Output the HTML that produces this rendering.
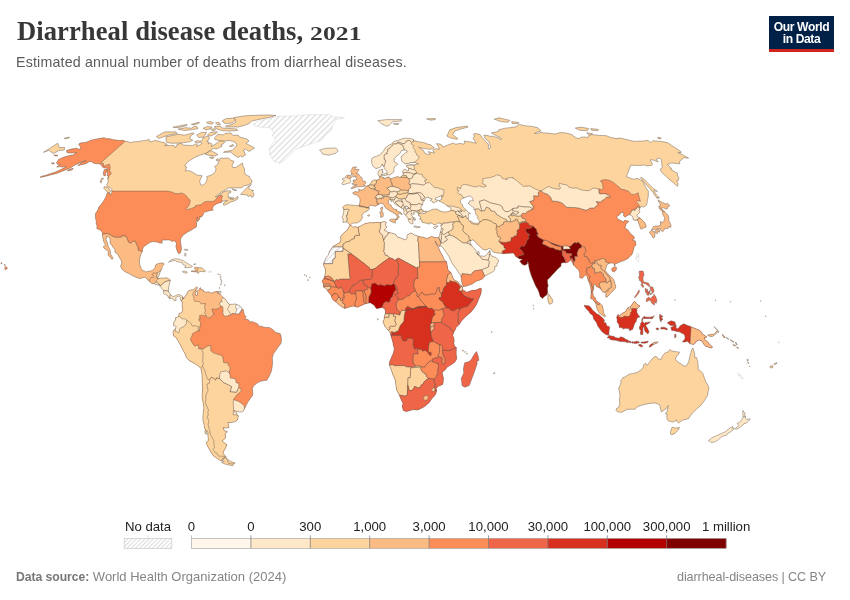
<!DOCTYPE html>
<html><head><meta charset="utf-8"><title>Diarrheal disease deaths, 2021</title>
<style>
html,body{margin:0;padding:0;background:#fff;}
body{width:850px;height:600px;position:relative;overflow:hidden;font-family:"Liberation Sans",sans-serif;}
#title{position:absolute;left:16.8px;top:15.3px;will-change:transform;font-family:"Liberation Serif",serif;font-weight:bold;font-size:26.6px;color:#373737;letter-spacing:0.07px;white-space:nowrap;line-height:32px;}
.yr{display:inline-block;font-size:19.2px;transform:scaleX(1.335);transform-origin:0 100%;}
#sub{will-change:transform;position:absolute;left:16px;top:53px;font-size:14.2px;color:#5b5b5b;white-space:nowrap;line-height:18px;letter-spacing:0.2px;}
#logo{will-change:transform;position:absolute;left:769px;top:16px;width:65px;height:36px;background:#002147;border-bottom:3px solid #ce261e;box-sizing:border-box;color:#fff;font-weight:bold;font-size:12.1px;line-height:12px;text-align:center;padding-top:5px;letter-spacing:-0.4px;}
#src{will-change:transform;position:absolute;left:16px;top:569px;font-size:13px;color:#858585;line-height:16px;white-space:nowrap;letter-spacing:0px;}
#src b{font-weight:bold;color:#777;font-size:12.2px;letter-spacing:-0.05px;}
#cc{will-change:transform;position:absolute;right:24px;top:569px;font-size:12.6px;color:#858585;line-height:16px;white-space:nowrap;letter-spacing:-0.1px;}
svg{position:absolute;left:0;top:0;}
.lg{font-family:"Liberation Sans",sans-serif;font-size:13.2px;fill:#222;}
</style></head><body>
<div id="title">Diarrheal disease deaths, <span class="yr">2021</span></div>
<div id="sub">Estimated annual number of deaths from diarrheal diseases.</div>
<div id="logo">Our World<br>in Data</div>
<svg width="850" height="600" viewBox="0 0 850 600">
<defs>
<pattern id="hatch" patternUnits="userSpaceOnUse" width="4.1" height="4.1" patternTransform="rotate(45)"><rect width="4.1" height="4.1" fill="#fff"/><line x1="1" y1="0" x2="1" y2="4.1" stroke="#d4d4d4" stroke-width="0.95"/></pattern>
<pattern id="hatchS" patternUnits="userSpaceOnUse" width="3" height="3" patternTransform="rotate(45)"><rect width="3" height="3" fill="#fff"/><line x1="0.5" y1="0" x2="0.5" y2="3" stroke="#dcdcdc" stroke-width="1.1"/></pattern>
<clipPath id="c1"><path d="M66.5,150.4L71.2,149.1L76.8,148.2L78.7,149.3L80.8,148.4L80.6,147.2L79.9,145.9L78.7,144.3L80.1,143L85.5,142.5L91.9,139.9L97.7,138.8L104.1,137.7L106.3,138.6L110.1,138.8L112.4,139.5L115.8,140.1L119.4,140.5L123.1,140.3L125.1,141.3L128.1,141.6L130.1,142.7L133.7,141.8L138.2,141.6L142.6,140.7L145.4,140.5L149.2,139.4L149.4,141.4L151.4,141.8L154.6,140.5L158.3,141L161.3,142.1L165.5,143L167.3,144.5L164.4,145.4L167.9,145.7L172.7,145.2L174.6,145.9L174.9,147.5L177,146.1L176.9,144.3L181.2,143.4L183.2,145L187.1,145.4L191.4,145.4L193.3,145.4L195.3,143.8L197.3,144.5L196.8,146.6L199.5,145L202.1,143.2L200.1,141.6L202.5,139.4L203,137.9L207.1,136.2L209,136.8L209.3,138.3L208.2,140.5L206.6,141.4L208.6,142.1L208.1,143.8L210.6,142.7L212,144.3L211.2,146.6L214,145L217.4,142.7L219.6,141L223.8,141L224.9,142.3L223.4,143.8L220.9,145L222.2,146.1L217.4,148.8L215.6,148.8L213.3,148.4L211.6,149.5L208.6,151.4L206.6,153L203.1,154.2L199.6,155.3L195.7,157L191.1,159.6L188.1,161.7L185.2,164.9L185,166.6L186.9,167.1L185.2,171L188.7,170.5L193.1,172.5L197.3,175.2L202.1,175.7L199.7,180.9L200.2,183.2L200.9,185L203,185.2L205.8,182.7L207.3,178.4L206.6,176.7L212.1,174.7L215.1,172.2L216.1,169L214.6,166.6L217.8,164.2L218.9,161.3L220.2,158.2L224.9,158.2L228.1,157.9L231,160.3L234,161.3L232,165.6L233,167.8L236.4,167.1L239.2,165.1L242.4,163L243,166.1L244.6,169L244.4,172.2L246.2,175.2L249.3,176.4L249.9,178.4L252.1,180.4L251.4,183.2L248,185L244.3,185.8L241.2,187.8L237.2,187.8L233.1,187.8L228.2,188L225.2,190.1L221.5,191.9L217.1,195.5L215.2,196.8L217.9,196.2L223,192.1L227,190.8L230.8,190.8L230.9,192.4L228.1,193.4L228.3,196L228.5,198L230.4,199.1L233.4,199.3L235.9,198L237.7,196.2L238,198.8L235.1,200.6L230.5,202.2L226.7,204.3L224.3,205.3L223.1,204.5L224.1,202.4L227.6,200.6L225.8,200.6L222.2,201.2L221.4,202.4L218,203.2L215,204.8L212.8,206.9L212.2,208.7L213.4,209.7L212.2,210.3L210.4,210.5L207.6,211.3L204.7,212.1L203.6,213.1L202.7,215.8L200.6,217.3L199.9,216L199.6,219.2L197.3,221.8L197.4,220L197.4,217.1L196.1,221.5L196.7,222.6L196.6,225.2L196.3,227.1L193.7,228.6L190.4,230.5L187.3,232.3L183.6,234.7L181.4,237.3L180.4,239.7L180.6,242.9L181,245.2L181.5,248.9L180.6,252.6L179.1,253.7L178.3,253.2L177.3,251L176.5,248.9L175.9,246.3L176.6,243.7L175.3,241.3L173.7,240.8L171.9,241.6L170.1,240L166.7,240L164.5,240L161.9,240.2L162.2,243.1L159.3,242.9L157.2,242.1L155.1,241.8L152.2,241.6L149.7,242.6L146.5,244.7L143.3,247.1L142.6,249.2L142.3,251.6L140.5,255L139.3,260.8L139.8,265L141.4,268.7L142.5,270.6L144.7,271.1L145.7,272L148.8,271.2L151.6,270.8L153.6,269.5L155.1,267.4L155.7,264.8L157.9,263.7L160.9,262.9L163.6,263.2L163.9,264.5L162.3,266.6L161.8,268.4L160.7,271.3L159.9,271.1L159.9,272.9L159.1,275.3L157.4,277.9L158.3,278.5L159,278.5L160.6,278.1L164.1,278.1L166.4,277.8L168.6,278.7L169.9,279.5L170.4,280.3L169.6,282.9L169.1,285.8L168.4,289L168.4,291.1L169.7,293.5L170.7,294.6L171.7,295.9L173.3,296.7L174.7,296.1L176.8,295.2L177.8,294.5L180.1,294.9L181.5,295.6L182.7,297L182.9,299L181.2,300.9L180.1,298.8L180.6,297.7L178.9,296.1L177.2,296.7L175.5,298L176.4,300.1L175.2,300.7L174,300.6L173.6,299.3L171.8,298.2L169.7,298.6L168.1,297.4L168,295.9L165.7,294.3L165.1,293.8L164.6,294.5L163.5,293.5L163.3,291.9L163.7,290.6L161.9,288.7L160.9,287.2L159.4,285.7L160.4,285.6L159.7,284.7L157.6,285.1L154.7,284.1L154.1,283.6L151.6,283.2L149.4,281.5L145.9,277.8L144.1,277.1L142.2,277.9L139.8,278.6L136.5,277.4L132.8,275.8L128.5,273.3L124.6,271.6L122,269.2L120.5,266.1L121.8,263.4L121.2,260.3L119.4,257.4L117.4,253.7L114.8,252.1L115.2,249.5L113.1,247.6L112.4,246L110.4,243.7L110,240.2L109.9,237.9L106.9,236L106,239.4L107.5,243.4L108.2,246.6L110.1,250L110.7,254.5L111.7,256.1L113.1,258.2L112,259.5L110.9,257.9L108,255L108.4,251.6L105.9,249.5L104,248.1L103.3,246.6L105.6,244.7L103.9,242.1L103.2,239.2L102.5,236.5L102.5,234.2L102.5,232.9L101,230.5L99,229.4L96.8,228.6L97.1,226L96.2,223.4L96.2,220.5L95.7,219.2L95.4,216.3L95.6,213.4L98,209.7L98.8,207.1L101.5,204L103.6,200.9L105.2,198.2L106.2,196.2L107.3,192.6L109.7,193.3L110.3,195.2L112.4,191.6L111.3,191.1L112,189.8L110.3,187.8L107.4,186.3L106.5,184.7L107.9,182.7L108.1,180.2L107.6,177.9L108.5,176.2L107,175.2L107.6,173L106.9,171L108,168.3L106.4,167.8L103.9,168L102.4,167.1L101.1,164.6L98.9,163.7L95.3,163.6L93.3,163L91.6,161.7L89.8,161.3L86,163.7L82.6,164.4L77.8,165.6L81.8,162.5L86.2,160.8L82.5,161.5L77.8,163.7L73.8,165.6L70.7,167.8L66.3,169.5L62.2,171.2L56.6,173.5L51.2,174.7L45.7,176.2L39.9,177.4L41.8,176.2L45.5,175.4L50.3,173.7L54.8,172.2L60.1,170L64.7,167.6L66.3,166.6L63.9,166.6L62.1,167.3L60.5,166.6L56.7,167.1L60.2,164.4L57.3,164.2L56.6,162.7L58,160.6L58.6,159.4L62.8,157.5L66.5,156.3L70.9,155.3L73,155.1L76.6,152.5L73,153L68.9,153L66.9,152.5L66.6,151.1Z"/></clipPath>
<clipPath id="c2"><path d="M191.4,271.5L193.8,271.7L196.1,271.9L197.6,272.3L198.2,273.5L199.5,271.7L201.9,271.3L204.6,271.9L205.5,270.8L204.1,269.8L202.2,268L199.7,267.4L198.1,267.8L195.6,267.3L194.2,267.9L195.4,269.5L196.3,270.8L193.6,270.9L191.6,270.7Z"/></clipPath>
<clipPath id="c3"><path d="M182.7,297L183.6,298.8L185.1,296.4L186.6,294.5L187.2,292.2L188.9,290.7L190.6,290.1L193.2,289.8L195.1,288.2L196.4,287L197.5,287.4L197.1,288.6L195.7,290.1L196.3,291.1L195.3,293L195.6,295.1L197,295.6L197.6,293.5L196.8,291.1L199.4,289.8L199.8,288.2L200.7,287.7L200.8,289.5L203.4,290.1L204.2,291.9L207,292L208.8,291.9L211.5,293.2L213.2,292.2L216.3,291.6L218.6,291.6L216.9,292.7L219.6,293.8L221,295.3L223,297.4L224.8,298.5L226.3,300.6L227.9,303L229.5,304.3L232.3,304.3L234.4,304L236.7,304.4L239.2,305.6L241.3,307.5L242.1,308.9L243.3,309.6L244.2,314.3L246,316.7L244.9,319.3L247.4,319.3L249.3,320.6L249.5,322.2L251.6,321.4L255.1,322.7L257.5,323.8L258.9,326.2L261,326.2L265.7,327.5L269.2,327.4L272.7,329.6L275.8,332.5L280.2,333.6L281.2,337L281.5,339.6L280.9,343.6L277.9,347.5L275.9,350.2L273.3,354.1L272.3,358.1L272.6,363.3L272.1,367.3L271.2,371.8L269,376.5L266.7,380.4L264,380.5L260.6,381.3L257.1,383.1L253.7,385.8L252.4,388.4L252.8,392.6L252.7,395.2L250.4,398.4L248.2,401.6L246.6,404.5L244.4,408.8L243.8,410.5L241.7,412L238.8,411.9L235.1,410.7L233.8,410.3L233.8,411.1L236.8,412.9L237.1,415.3L238.5,415.8L237.4,420L234.8,421.8L230.7,422.6L228,422.4L228.5,425.3L229.1,427.6L226.1,428.1L223.1,427.6L224.2,430.5L227.5,431.8L225.9,432.8L225.2,433.9L225.5,437L225.3,438.3L222.2,440.9L225.1,443.5L227,444.7L224.9,449.4L223.2,451.9L223.3,453.7L226.3,457.1L224.4,457.7L222.1,458.8L222.4,460.9L219.5,460L216.6,458L213.8,456.2L211.1,452.4L208.2,447.3L206,442.7L208.5,440.4L207.9,435.7L208,431.8L205.1,429.4L204.3,426.8L204.1,424.7L202.9,420L202.9,417.6L203.1,413.4L203.9,408.4L203.8,406.8L202.9,401.6L202.3,398.7L202.1,395L202.5,391L202.6,386.8L202.2,382.1L202.2,377.8L201.8,373.1L201,368.6L200.7,368.2L198.1,365.7L195,363.7L188.9,360.4L186,356.8L185.6,354.9L183.8,351.6L181.4,347L179.8,343.8L177.5,340.1L176.5,338L173.6,335.9L173,332.2L173.9,330.1L175.3,328.8L176.2,326.7L175.4,325.9L173.6,325.6L173.8,322.5L175.6,319.9L175.6,317.7L178.2,317L178.7,316L179.2,313.3L181.8,312.7L182.8,309.6L182,305.4L182.3,302.2L181.2,300.9L182.9,299Z"/></clipPath>
<clipPath id="c4"><path d="M226.3,457.9L223.6,458.1L222.8,460.3L224.2,461.8L221.4,462L224.1,463.8L228.6,465L232.8,465.7L233.3,464.3L235.1,462.9L232.2,462.1L229.5,460.8L227.6,459.3Z"/></clipPath>
<clipPath id="c5"><path d="M349.5,225.5L350.8,225.2L352.7,227.2L353.8,226.9L355.9,226.8L357.6,227.3L361.1,225.7L362.6,224.9L365.2,223.6L369.1,222.8L373.5,222.8L377.4,222.3L379.4,222.6L381.2,222.4L383.8,221.5L386.4,222.2L385.6,223.9L385.6,225.5L386.8,227.1L384.7,229.4L384.5,230.5L386.5,231L388,232.5L391.7,233.1L395.9,234.4L397.4,237.1L399.4,237.6L402.6,238.7L405.1,240L407,238.4L407,235.2L410.5,233.1L412.5,233.5L414,235L415.8,235.2L418.4,236.4L423,237.2L427.1,238.5L429.1,237.6L431.4,236.5L434.4,237.3L437.1,237.9L438.7,237.3L440.7,242.1L440.2,244.7L439.6,246.7L438,245.2L436.5,243.4L435.3,240.9L435.5,242.6L437.1,245.2L438.7,248.1L440,251.3L441.9,254.5L443.1,256.6L443.5,258.7L446.6,261.9L447.7,268.2L448.2,270.3L450.9,272.4L453.4,278.7L454.7,280.3L457.6,281.6L460.5,285.1L461.3,285.6L462.2,286.4L462.8,288L462.3,289.3L462.7,289.7L466.8,292.3L471.4,290.6L476,290.1L480.1,288.3L481.3,288.6L481.2,292.2L480.4,295.1L478.9,298.5L476.7,304L474.2,308L470.8,312.2L468.1,314.4L465,317.2L461.6,320.8L459.3,324.2L457.7,325.9L456.1,327.2L455.9,328.3L454.8,330.5L453.7,332.1L453.4,333.3L452.7,335.7L453.8,337.8L454.2,340.9L453.7,343.3L454.6,346.2L456.3,347.5L456.2,351.5L456.1,354.1L456.7,358.1L456.4,359.4L454.4,362.6L449.8,365.5L447.2,367L445.5,369.4L442.2,372.2L442.5,374.7L443.4,377.8L443.1,382.9L442.6,384.4L438.4,386.3L436.2,388.3L436.7,390.6L435.8,393.7L434.5,395.8L431.9,398.5L429.3,402.4L424.2,406.8L419,409.4L417.1,410L413.2,409.6L406.4,411.6L403.1,410.4L403,409.2L402.1,406.1L403.1,403.4L401.1,399.5L399.4,395.2L396.6,390L396,385.8L395.4,380.4L393,374.9L390.9,369.1L389.4,365.3L389.6,362L390.4,359.9L393.4,353.1L394.4,348.8L393.1,344.4L393.1,343L391,335.9L390.8,335.1L390.3,333L390,332.5L388.3,330.3L384.8,326.2L382.9,321.7L384.4,318.8L384.1,317.2L385.2,313.8L385.5,312.1L385,309.2L383.1,308L382.2,307.3L378.7,308.3L376.4,308.5L374,305.1L370.3,302.8L368.7,303.1L366.1,303.5L365.2,303.8L361.9,305.2L357.5,307.3L355.2,306.4L353.1,306L348.4,307.2L344.9,308.4L341.4,306.7L337.3,303.2L335.6,301.7L333.3,300.1L331.6,297.4L331.5,296L330.6,294.8L328.5,292.2L327.6,291L326.3,288.6L323.7,287.3L323.5,285.4L323.5,284L322,281.1L324.4,277.5L325.6,272.1L325.3,268.7L323.4,265L323.6,263.6L326.2,257.4L328.3,255.3L329.6,251L332.6,247L333.3,246.2L337.5,243.9L340,242.3L340.9,239.7L340.6,236.8L341.9,234.7L345.6,231.3L347.3,230.1L348.8,227.3Z"/></clipPath>
<clipPath id="c6"><path d="M438.7,237.3L439.2,236.5L439.6,235.2L440,233.4L440.1,232.6L440.8,230.5L441.3,229.2L441.5,228.5L440.8,226.3L441,225.1L441.4,223.4L439.9,223.4L437.9,222.8L436.1,224.6L433.7,224.7L432.3,223.5L429.4,222.7L429.1,224.2L425.9,223.1L423.9,222.8L422.1,222.3L421.5,220L419.4,218.9L420.7,218.5L420.2,216.3L418.6,215.8L418.7,214.4L419.7,213.4L421.4,213.7L424.6,213.4L426.4,212.5L424.6,211.7L424.8,211.3L427.1,211.4L429.4,211L431.2,209.9L433.2,209.2L437.1,209.1L439.9,211L442.6,211.7L444.5,212L447.3,211.8L451,210.5L451,209L450.4,207.6L447.6,206.3L446.8,205.6L444.1,203.5L441.5,202.2L439,200.9L440.7,199.9L441.9,198.3L441.4,196.8L443.5,196L441.2,196L440,196.1L438.5,197L435.6,198L435.2,199.6L438.5,200.4L436.4,201.4L434.7,202.4L433.1,203L432.4,201.4L430.2,200.4L432.2,198.8L428.8,198L428.4,197L426.1,197.5L425.2,199.2L424.3,200.8L422.9,202.2L422.6,204L422.6,204.7L421.4,206.1L420.7,207.9L421.9,209.2L422.5,210.5L424.2,211L424.2,211.8L421.2,212L418.7,214.3L418.1,212.9L418.2,212.5L416.1,212L414.6,212L413.2,212.6L414.6,213.9L412.7,214.6L411.5,213.4L411.5,212.9L411,214.4L412.5,216.5L411.7,217.3L413.5,218.4L414.7,220.6L413.4,219.7L412.3,219.8L412.9,221.3L412.9,223.8L411.6,223.8L409.7,222.8L408.2,220.2L408.6,219.2L411.2,219.2L408.1,218.8L407.1,217.2L405.9,215.5L405.4,215.2L404,213.7L403.9,211L403.6,209.6L401.6,208L400.8,207.5L397,205.3L394.3,203.5L393.5,201.4L392.2,200.6L391.5,201.9L390.7,200.1L391,199.7L389.7,199.6L388.1,200.6L388.5,201.7L388.4,203.5L390.8,205L392.1,207.4L394.3,209.2L396.9,209.5L396.3,210.5L398.7,211.6L401,212.7L402.1,214.2L401.9,215L400.8,213.7L399.3,213.3L398.1,214.2L397.9,215.2L399.4,217.1L398.1,217.9L397.3,219.8L396.4,219.7L396.6,218.1L397.4,217.1L396.4,215L395.9,214.3L394.4,213.8L393.5,212.7L392.9,212.3L390.2,211.2L388.4,209.9L386,208.2L384.6,206.6L384.1,205.2L383.1,203.9L381.1,203L379.2,204.3L378.2,204.5L377,205.4L375,206.3L373.7,205.8L372.5,205.6L370.8,205.2L369,206.3L369.1,208L369.2,209.5L367,211L364.1,212.5L362.4,214.6L361.8,215.9L362.8,217.7L361.3,218.9L360.8,220.7L358.9,221.4L357.7,223L354.8,223.1L352.8,223.1L350.7,224.6L350.1,224.9L348.6,223.5L348.3,222.6L346.3,221.8L345,222.3L342.9,222.3L343.3,218.6L341.9,217.7L342.8,215.5L343.4,213.9L343.8,211.4L343.6,209.5L342.7,206.9L344.7,205.6L346.2,204.7L350.2,204.9L354.4,205.4L358.6,205.7L359.2,205.2L359.9,202.3L360.1,199.9L359.9,198.3L358.3,196.8L357.9,195.6L356.6,195L353.6,194.2L352.7,192.8L355.1,191.6L358.3,192L359.1,192L358.6,189.3L359.8,189.3L360.2,190.2L362.6,189.8L364.6,188.7L365.6,186.8L366.1,186.1L367.5,185.8L369.1,185.1L370.4,183.6L371.5,182.3L371.8,181.1L373.1,180.4L376,179.9L376.6,180.3L378.1,179.2L379.1,179.6L379.9,178.7L379.6,177.7L379.2,176.2L378.1,174.6L378.1,172L378.8,170.7L381.3,169.5L382.6,169.1L382.5,170.5L382.2,172L383.4,172.3L382.1,173.1L381.4,174.9L380.8,176.4L382,177.3L384.1,177.6L383.7,178.6L386.1,178.1L388.6,176.8L390.4,178.7L394.1,177.7L398.1,176.4L398.9,177.4L400.8,177.3L401.3,176.1L403.4,175.2L403,173.3L402.7,171.5L403.5,170L405.4,169.1L406.8,170.9L408.5,170.9L408.6,168.9L408.7,167.7L406.7,167.1L406.4,165.6L408.7,165L411,164.6L414.8,165L416.3,164.2L418.7,163.9L416.3,163.2L415.5,162.7L413.9,162.4L410.6,162.7L408.9,163.3L405.3,164L403.6,162.7L401.7,161.3L401.6,159.8L401.1,157.7L401.4,156.3L403.3,154.6L405.9,152.5L407.4,151.8L407,150.7L404.8,150L401.5,150.4L400.3,152.8L398.8,154.6L395.9,156.7L394.2,158.9L394.2,162L397,163.2L397.8,164.2L396.3,165.4L394.5,166.9L394.1,168.5L393.8,171L393.9,171.9L392.5,173.1L390.1,174.6L390,174.9L387.6,174.9L387.3,174.2L386.7,173L387.2,171.9L385.1,169.3L383.5,166.3L383.3,166.1L382.2,163.9L381.6,166.1L379.4,167.6L375.9,168.5L373.1,166.3L371.9,163.7L371.6,161L371.8,158.4L374.2,157L376.3,156.3L379.6,154.9L382,152.8L383.9,150.4L385,148.2L387.3,146.6L389,145L392.1,143.8L392.9,142.3L394.4,141.2L397.6,140.5L401.8,139L405.1,138.1L408.8,138.3L412.2,139L414.3,139.9L412.9,141.2L414.2,141L416.2,141L418.3,141.8L423.4,142.5L428.2,144.3L430.6,144.7L434.2,147.7L433.2,148.8L429.8,149.3L424.4,148.6L420.7,147.9L418.5,147L420.9,148.8L423.7,150.7L424.4,153L427.8,154.4L430.4,154.2L429.9,153.5L427.9,151.6L433,152.8L434.5,152.9L432.8,150.4L435.7,148.6L439.4,149.3L438.7,147.2L436.5,143.6L440.1,144.1L442.3,145.4L443,147.2L445.9,145.7L451.1,143.8L453.2,143L455.6,144.3L460.2,143.4L463.1,144.1L465.1,143L464,141L471.4,142.1L476.3,143.2L475.2,141.4L473.1,138.8L474.4,136.2L473.6,134L474.9,133.4L480,134.5L482.6,138.3L487,142.7L488.6,145L488.2,148.8L490.9,147.5L489.5,143.8L488.8,141.6L484.9,138.3L483.9,135.1L487.8,135.5L490.1,136.4L493.2,136.2L499,138.3L501,139.9L501.5,138.3L495.9,135.5L491.4,133L498.8,131.3L498.8,129.7L505.1,128.2L510.6,127.6L515.9,126.8L519.4,124.4L525.3,125.8L532.2,126.4L537.9,127.8L541.1,130.9L537.5,131.9L534.4,133.4L537.6,133.4L541.2,132.3L544.6,133.2L544.9,132.8L555.3,134L559.8,132.6L564.9,132.8L570.9,134.2L576,137.7L578.7,138.6L581.2,137.2L585,137L588.1,137.5L589,135.1L589.8,134.2L592.5,134.7L598.2,135.3L606.2,135.7L610,137.2L616,138.6L620.3,138.1L630.5,140.5L634.3,141.4L638.2,141.2L643.8,141L647.9,140.3L650.7,142.7L652.7,140.7L658.4,141.2L663.7,141.8L667.7,142.8L681.3,151.8L680.9,152.8L677.9,152.5L683.6,155.3L688.6,158.2L684.1,157.7L681.8,159.4L679.7,161.3L679.7,163.8L671.6,163L669,163.9L667.4,164.4L671.6,168.5L670.3,169L677.4,173.2L677.5,175.9L678.8,177.2L678.5,180.4L676.5,180.9L678.1,183.5L677.5,186.3L671.1,180.9L665.4,175.9L661,171.5L660.4,169L662.3,167.8L661.8,164.9L661.7,162.5L661,159.6L659.5,157.9L656.2,159.4L658.4,162L651.9,159.6L650.3,159.8L652.5,164.2L651.6,165.4L646,165.9L644.4,164.8L640.8,165.4L635.7,165.4L630.7,165.2L629.4,169L628.2,172.3L626.3,176.7L633.4,179.2L637.3,178.4L642,180.7L643.6,182.7L645.1,186.3L648.3,191.1L648.3,196.2L647.3,200.9L646.7,204.8L643.8,207.1L641.2,206.3L639.9,208.4L639.1,210.8L640.1,212.1L637.5,214.4L636.9,215L637.3,216.5L640.1,218.1L644.3,222.1L645.9,224.9L646.2,227.1L643.9,227.8L641.2,229.2L640.4,228.4L639.8,226L638.6,222.8L637.6,220.2L634.6,220.2L632.9,219.4L633.2,217.9L631.9,215.8L629.7,214.6L627.3,215.5L625.2,217.3L623.5,215.8L623.8,212.9L621.3,212.2L619.6,214.7L617,216.5L616.6,217.1L618.3,219.4L621,220.5L623.4,222.1L624.6,220.2L629,221.3L626.6,223.4L625.8,224.9L624.9,228.1L627.7,229.7L630.7,233.9L633.8,236.3L634.5,238.4L631.9,240L635.4,241L636,245.2L634.3,246.3L633.1,251.3L631.9,254.7L630.7,255.4L628.1,258.4L622.9,261.1L621.4,261.3L617.8,262.9L615,264L614.9,266.3L613.5,263.2L612.5,262.9L609.1,263.2L606.7,265L606.3,267.1L605.2,270.3L607.3,273.2L608.9,275L611.8,277.4L613.7,279.5L614.9,283.6L615.8,286.4L615.4,288.2L613.1,291.1L610.9,292.6L609.7,294.5L607.1,296.9L605.9,297.2L605.8,294L606.4,293.5L604.8,292.4L602.5,291.9L601.5,290.3L600.9,289.1L599.1,287.7L596.2,286.5L595.9,284.7L594.9,284.3L593.8,284.8L593.8,286.8L593.7,288.7L592.7,292.2L593.3,295.7L595.1,297.7L596.4,300.9L599.4,303L600,303.4L602.4,305.6L603.3,309.8L603.6,312.7L605.6,316.3L604.2,316.4L600.7,314.1L598.5,311.9L597,308.8L596.2,305.6L595.9,304L595.5,302.8L594.3,301.7L592.3,298.6L590.9,299L590.7,296.4L591.2,293.5L591,289.5L590.7,287.2L589.4,282.9L588.1,280.3L587.2,276.4L585.5,275L584.2,276.1L582.4,278.3L579.7,277.7L579.8,273.7L578.8,270.3L577,268.4L575.1,266.7L573.5,265.1L571.8,261.1L570.3,260.3L569.1,261.3L568.3,262.2L565.9,262.8L563.6,262.6L561.2,263.2L560.9,266.3L559,267.8L557.2,269.5L553.9,273.2L551.9,275.3L549.2,278.3L547.3,280L547.7,284L548.2,285.3L547.4,288.5L547.7,292.7L546.4,295.3L544,296.7L542.7,298.5L540.1,296.4L539.4,293.6L538.2,290.2L535.6,285.8L533.5,280.8L532.7,279L531.1,275L529.6,269.9L528.9,267.1L528.6,264.2L527.8,261.2L527.2,264L524.8,265.3L522.5,264.5L519.7,261.2L522.6,259.2L519.1,258.7L517.6,257.4L515.9,256.8L514.5,254.5L513.4,252.9L509.8,253.2L506.4,253.4L503.7,253.7L502.1,253.4L499.8,253.2L496.1,252.9L493.3,252.1L491.2,249.2L489.5,248.3L486.3,250L483.1,249.5L481,247.6L479.7,246.4L476.6,243.5L474.6,240.8L472,239.7L471.1,240.9L469.9,240.9L470.1,242.5L471.2,244.6L472.6,247.1L474.5,248.7L476,250.5L476,252.4L477.7,254.6L477.4,252.6L478.4,250.9L479.3,253.2L478.9,255.1L479.7,255.9L482,256.1L484.3,256.3L486,255.4L487.8,253.2L489.4,251.2L490,250.4L490.2,253.7L491.4,255.8L495.8,257.6L498.9,260.5L497.2,263.7L496.8,266.1L494.7,266.6L494.8,269.8L492.5,272.1L489.6,273.5L486.9,275L484.7,276L482.8,278.7L480.1,279.9L475.8,281.5L472.3,284L466.6,286.1L463.1,286.5L462.5,284.8L461.5,280.8L461,276.6L460.4,275.3L456.7,269.5L452,263.2L450.1,259.2L448.9,256.3L446.7,253.2L444.9,250.6L442.4,247.1L440.3,245.9L440.8,242.5L440.7,242.1Z"/></clipPath>
<clipPath id="c7"><path d="M348,175.1L349,175.4L350.4,175.4L351.7,177.4L350.1,178.2L350,178.4L350.4,180.2L350.5,181.7L349.8,183L347.4,183.5L345.8,184L342.8,184.9L341.7,183.2L343.1,182L344.6,180.6L342.3,179.9L342.6,178.4L345.8,177.7L345.4,176.8L346.3,175.6Z"/></clipPath>
<clipPath id="c8"><path d="M634.6,301.4L636.3,303.2L637.3,304.6L640.1,306.1L637.7,308.5L637,308.6L636.4,308.9L637.1,310.6L636.7,311.9L637.5,313.8L639.8,317.1L637.3,317.7L636.4,319.9L636.2,321.4L634.7,323.3L634,325.6L633.2,327.8L632.7,329.3L629.5,330.8L629.2,328.8L625.7,328.3L622.9,329.1L622.7,327.8L619.2,327.5L619.1,324.9L617,321.7L617.3,319.9L616.6,317.2L618,314.4L619.7,315.6L622.1,313.5L625.7,311.4L627.8,307.7L630.4,306.7L631.1,305.6L632.5,304L633.9,301.7Z"/></clipPath>
<clipPath id="c9"><path d="M667.9,322L668.5,322.1L671.2,320.8L675.1,322.1L675.3,323.8L676.4,326.4L675.5,325.9L676.2,328L677.7,328.7L679.4,327L680.6,325.6L683.7,323.8L687.6,325.4L690.4,326.4L691.1,326.7L694.5,328.3L699.1,330L702,332.6L701.9,333.6L704.6,335.5L706.5,336.5L706.4,337.5L704.4,337.6L704.7,339.4L706.9,341.2L709.2,343.7L710.7,345.4L712.6,346.9L712,347.8L710.4,347.9L708,346.9L705.7,346.3L704.1,344.8L702,341.1L699.1,340L696.7,340.9L695.6,342.5L694.6,343.8L693.6,344.4L689.9,343.8L687.6,341.2L685.2,341.9L682.4,342L684.8,339.1L685.1,337.5L684.6,334.9L683.5,334.1L679.2,331.8L676.9,331.4L673.2,330.4L671.8,330.7L670.8,327.5L673.1,326.4L674.6,325.6L670.4,325.4L668.5,323.8L667.7,323.5Z"/></clipPath>
<clipPath id="c10"><path d="M649,347.1L650.1,344.9L651.5,344.1L652.8,343.3L654.3,342.4L656.4,342L658.3,342L657.3,342.9L655.1,343.8L652.9,344.8L651.1,346.6Z"/></clipPath>
</defs>
<g clip-path="url(#c1)">
<rect x="-100" y="0" width="1000" height="600" fill="#fdd49e"/>
<path d="M101.5,191.1L111.3,191.1L138.2,191.1L168.4,191.1L169.1,191.6L172.4,192.1L174.8,193.4L178.6,193.7L181.4,192.9L184.6,194.4L187,196.5L187.4,197.5L188.9,198.8L190.3,200.6L189.6,204L188.2,206.6L185.9,208.7L186.8,209.7L190.3,208.7L195.2,207.1L195.5,205.6L198.5,205L201.3,204.8L202.2,203.5L205.7,201.4L209.8,201.4L213,201.4L214.8,200.4L216.3,199.1L217.6,197L219.9,195.1L221.7,195.3L222.5,196L221.3,199.6L221.8,200.6L222.2,201.2L222,202.2L220.1,206.6L229.2,214.4L220.4,267.1L142.3,251.6L138.3,250.3L138,247.4L136.5,244.5L135.3,241.3L132.8,241.3L130.7,243.4L128.2,241.8L127.3,238.7L125.4,236L121.6,236L121.2,237.3L115,237.3L111.1,235.5L108,233.6L102.5,234.2L83.5,238.1L83,214.4Z" fill="#fc8d59" stroke="#62564c" stroke-width="0.45" stroke-linejoin="round"/>
<path d="M131.9,136.2L125.1,141.3L100.6,163L103.4,163.4L103.7,166.3L107,164.9L109.6,164.2L109.8,165.9L110.3,167.3L109.7,171L111.4,173.5L109.1,175.9L107.1,180.9L23.3,183.5L60.9,149.5L104.2,134Z" fill="#fc8d59" stroke="#62564c" stroke-width="0.45" stroke-linejoin="round"/>
<path d="M102.5,234.2L108,233.6L111.1,235.5L115,237.3L121.2,237.3L121.6,236L125.4,236L127.3,238.7L128.2,241.8L130.7,243.4L132.8,241.3L135.3,241.3L136.5,244.5L138,247.4L138.3,250.3L142.3,251.6L147.3,251.3L169.1,256.6L165.9,282.9L142.3,288.2L87.5,267.1L96.5,232.9Z" fill="#fdbb84" stroke="#62564c" stroke-width="0.45" stroke-linejoin="round"/>
<path d="M149.4,281.5L149.6,279.8L151,277.4L153.8,277.4L153.9,276.4L152.1,274.5L153,274.4L153.2,272.9L157.4,272.9L156.7,277.9L157.4,277.9L159.6,277.1L161.5,280.3L156.2,288.2L147.2,285.6Z" fill="#fdbb84" stroke="#62564c" stroke-width="0.45" stroke-linejoin="round"/>
<path d="M157.4,272.9L158.1,272.7L159.6,271.1L161.5,271.1L160.6,277.9L157.4,277.9L156.7,277.9Z" fill="#fee8c8" stroke="#62564c" stroke-width="0.45" stroke-linejoin="round"/>
<path d="M159,278.5L158,278.7L156.4,280.6L156,281.9L157.8,282.9L159.3,284.5L159.2,285.6L160.3,285.8L161.8,284.8L163.4,282.9L166.1,281.4L167.2,281.1L170.4,280.3L171.9,280.3L172.3,276.4L159.7,276.4Z" fill="#fdd49e" stroke="#62564c" stroke-width="0.45" stroke-linejoin="round"/>
<path d="M156,281.9L157.8,282.9L159.3,284.5L159.4,285.8L153.4,285.6L154.1,283.6Z" fill="#fee8c8" stroke="#62564c" stroke-width="0.45" stroke-linejoin="round"/>
<path d="M160.3,285.8L161.8,284.8L163.4,282.9L166.1,281.4L167.2,281.1L170.4,280.3L171.9,280.3L171.1,291.1L168.4,291.1L166,290.9L163.7,290.6L161.7,292.2L157.6,285.8Z" fill="#fee8c8" stroke="#62564c" stroke-width="0.45" stroke-linejoin="round"/>
<path d="M163.7,290.6L166,290.9L168.4,291.1L171.1,291.1L171.3,294.6L170.7,294.6L169.8,295.9L169.7,298.6L169.4,300.1L161.5,294.8L161.7,292.2Z" fill="#fee8c8" stroke="#62564c" stroke-width="0.45" stroke-linejoin="round"/>
<path d="M170.7,294.6L171.3,294.6L172.1,292.2L183.7,292.2L182.7,297L182.9,299L181.2,300.9L180.9,302.7L169.3,302.7L169.4,300.1L169.7,298.6L169.8,295.9Z" fill="#fee8c8" stroke="#62564c" stroke-width="0.45" stroke-linejoin="round"/>
</g>
<path d="M66.5,150.4L71.2,149.1L76.8,148.2L78.7,149.3L80.8,148.4L80.6,147.2L79.9,145.9L78.7,144.3L80.1,143L85.5,142.5L91.9,139.9L97.7,138.8L104.1,137.7L106.3,138.6L110.1,138.8L112.4,139.5L115.8,140.1L119.4,140.5L123.1,140.3L125.1,141.3L128.1,141.6L130.1,142.7L133.7,141.8L138.2,141.6L142.6,140.7L145.4,140.5L149.2,139.4L149.4,141.4L151.4,141.8L154.6,140.5L158.3,141L161.3,142.1L165.5,143L167.3,144.5L164.4,145.4L167.9,145.7L172.7,145.2L174.6,145.9L174.9,147.5L177,146.1L176.9,144.3L181.2,143.4L183.2,145L187.1,145.4L191.4,145.4L193.3,145.4L195.3,143.8L197.3,144.5L196.8,146.6L199.5,145L202.1,143.2L200.1,141.6L202.5,139.4L203,137.9L207.1,136.2L209,136.8L209.3,138.3L208.2,140.5L206.6,141.4L208.6,142.1L208.1,143.8L210.6,142.7L212,144.3L211.2,146.6L214,145L217.4,142.7L219.6,141L223.8,141L224.9,142.3L223.4,143.8L220.9,145L222.2,146.1L217.4,148.8L215.6,148.8L213.3,148.4L211.6,149.5L208.6,151.4L206.6,153L203.1,154.2L199.6,155.3L195.7,157L191.1,159.6L188.1,161.7L185.2,164.9L185,166.6L186.9,167.1L185.2,171L188.7,170.5L193.1,172.5L197.3,175.2L202.1,175.7L199.7,180.9L200.2,183.2L200.9,185L203,185.2L205.8,182.7L207.3,178.4L206.6,176.7L212.1,174.7L215.1,172.2L216.1,169L214.6,166.6L217.8,164.2L218.9,161.3L220.2,158.2L224.9,158.2L228.1,157.9L231,160.3L234,161.3L232,165.6L233,167.8L236.4,167.1L239.2,165.1L242.4,163L243,166.1L244.6,169L244.4,172.2L246.2,175.2L249.3,176.4L249.9,178.4L252.1,180.4L251.4,183.2L248,185L244.3,185.8L241.2,187.8L237.2,187.8L233.1,187.8L228.2,188L225.2,190.1L221.5,191.9L217.1,195.5L215.2,196.8L217.9,196.2L223,192.1L227,190.8L230.8,190.8L230.9,192.4L228.1,193.4L228.3,196L228.5,198L230.4,199.1L233.4,199.3L235.9,198L237.7,196.2L238,198.8L235.1,200.6L230.5,202.2L226.7,204.3L224.3,205.3L223.1,204.5L224.1,202.4L227.6,200.6L225.8,200.6L222.2,201.2L221.4,202.4L218,203.2L215,204.8L212.8,206.9L212.2,208.7L213.4,209.7L212.2,210.3L210.4,210.5L207.6,211.3L204.7,212.1L203.6,213.1L202.7,215.8L200.6,217.3L199.9,216L199.6,219.2L197.3,221.8L197.4,220L197.4,217.1L196.1,221.5L196.7,222.6L196.6,225.2L196.3,227.1L193.7,228.6L190.4,230.5L187.3,232.3L183.6,234.7L181.4,237.3L180.4,239.7L180.6,242.9L181,245.2L181.5,248.9L180.6,252.6L179.1,253.7L178.3,253.2L177.3,251L176.5,248.9L175.9,246.3L176.6,243.7L175.3,241.3L173.7,240.8L171.9,241.6L170.1,240L166.7,240L164.5,240L161.9,240.2L162.2,243.1L159.3,242.9L157.2,242.1L155.1,241.8L152.2,241.6L149.7,242.6L146.5,244.7L143.3,247.1L142.6,249.2L142.3,251.6L140.5,255L139.3,260.8L139.8,265L141.4,268.7L142.5,270.6L144.7,271.1L145.7,272L148.8,271.2L151.6,270.8L153.6,269.5L155.1,267.4L155.7,264.8L157.9,263.7L160.9,262.9L163.6,263.2L163.9,264.5L162.3,266.6L161.8,268.4L160.7,271.3L159.9,271.1L159.9,272.9L159.1,275.3L157.4,277.9L158.3,278.5L159,278.5L160.6,278.1L164.1,278.1L166.4,277.8L168.6,278.7L169.9,279.5L170.4,280.3L169.6,282.9L169.1,285.8L168.4,289L168.4,291.1L169.7,293.5L170.7,294.6L171.7,295.9L173.3,296.7L174.7,296.1L176.8,295.2L177.8,294.5L180.1,294.9L181.5,295.6L182.7,297L182.9,299L181.2,300.9L180.1,298.8L180.6,297.7L178.9,296.1L177.2,296.7L175.5,298L176.4,300.1L175.2,300.7L174,300.6L173.6,299.3L171.8,298.2L169.7,298.6L168.1,297.4L168,295.9L165.7,294.3L165.1,293.8L164.6,294.5L163.5,293.5L163.3,291.9L163.7,290.6L161.9,288.7L160.9,287.2L159.4,285.7L160.4,285.6L159.7,284.7L157.6,285.1L154.7,284.1L154.1,283.6L151.6,283.2L149.4,281.5L145.9,277.8L144.1,277.1L142.2,277.9L139.8,278.6L136.5,277.4L132.8,275.8L128.5,273.3L124.6,271.6L122,269.2L120.5,266.1L121.8,263.4L121.2,260.3L119.4,257.4L117.4,253.7L114.8,252.1L115.2,249.5L113.1,247.6L112.4,246L110.4,243.7L110,240.2L109.9,237.9L106.9,236L106,239.4L107.5,243.4L108.2,246.6L110.1,250L110.7,254.5L111.7,256.1L113.1,258.2L112,259.5L110.9,257.9L108,255L108.4,251.6L105.9,249.5L104,248.1L103.3,246.6L105.6,244.7L103.9,242.1L103.2,239.2L102.5,236.5L102.5,234.2L102.5,232.9L101,230.5L99,229.4L96.8,228.6L97.1,226L96.2,223.4L96.2,220.5L95.7,219.2L95.4,216.3L95.6,213.4L98,209.7L98.8,207.1L101.5,204L103.6,200.9L105.2,198.2L106.2,196.2L107.3,192.6L109.7,193.3L110.3,195.2L112.4,191.6L111.3,191.1L112,189.8L110.3,187.8L107.4,186.3L106.5,184.7L107.9,182.7L108.1,180.2L107.6,177.9L108.5,176.2L107,175.2L107.6,173L106.9,171L108,168.3L106.4,167.8L103.9,168L102.4,167.1L101.1,164.6L98.9,163.7L95.3,163.6L93.3,163L91.6,161.7L89.8,161.3L86,163.7L82.6,164.4L77.8,165.6L81.8,162.5L86.2,160.8L82.5,161.5L77.8,163.7L73.8,165.6L70.7,167.8L66.3,169.5L62.2,171.2L56.6,173.5L51.2,174.7L45.7,176.2L39.9,177.4L41.8,176.2L45.5,175.4L50.3,173.7L54.8,172.2L60.1,170L64.7,167.6L66.3,166.6L63.9,166.6L62.1,167.3L60.5,166.6L56.7,167.1L60.2,164.4L57.3,164.2L56.6,162.7L58,160.6L58.6,159.4L62.8,157.5L66.5,156.3L70.9,155.3L73,155.1L76.6,152.5L73,153L68.9,153L66.9,152.5L66.6,151.1Z" fill="none" stroke="#62564c" stroke-width="0.45" stroke-linejoin="round"/>
<g clip-path="url(#c2)">
<rect x="-100" y="0" width="1000" height="600" fill="#fdd49e"/>
<path d="M190.9,264.5L198.3,264.5L198,267.9L198,270L197.2,270.8L197.6,272.3L197.3,275L189.8,275Z" fill="#fdbb84" stroke="#62564c" stroke-width="0.45" stroke-linejoin="round"/>
</g>
<path d="M191.4,271.5L193.8,271.7L196.1,271.9L197.6,272.3L198.2,273.5L199.5,271.7L201.9,271.3L204.6,271.9L205.5,270.8L204.1,269.8L202.2,268L199.7,267.4L198.1,267.8L195.6,267.3L194.2,267.9L195.4,269.5L196.3,270.8L193.6,270.9L191.6,270.7Z" fill="none" stroke="#62564c" stroke-width="0.45" stroke-linejoin="round"/>
<path d="M156.4,136.5L164.6,131.9L175.4,131.8L177.3,133.4L167.9,135.2L158.9,138.5Z" fill="#fdd49e" stroke="#62564c" stroke-width="0.45" stroke-linejoin="round"/>
<path d="M166,136.8L178.2,134.3L184.8,135.2L187.6,134.3L192.4,132.9L194.2,133.4L191.4,135.2L189.5,138.5L192.8,140.2L189.5,141.8L182.9,142.8L176.4,143.2L170.7,143.2L166.9,142.3L166,139.9Z" fill="#fdd49e" stroke="#62564c" stroke-width="0.45" stroke-linejoin="round"/>
<path d="M173,127.2L186.7,124.4L187.2,125.4L178.2,127.7Z" fill="#fdd49e" stroke="#62564c" stroke-width="0.45" stroke-linejoin="round"/>
<path d="M178.2,129.1L185.8,127.7L191.4,128.2L194.2,126.3L197.1,126.8L198,128.6L192.4,129.6L184.8,130.5L182,130.1Z" fill="#fdd49e" stroke="#62564c" stroke-width="0.45" stroke-linejoin="round"/>
<path d="M191.4,124.4L198.9,122.1L199.4,123L194.2,124.9Z" fill="#fdd49e" stroke="#62564c" stroke-width="0.45" stroke-linejoin="round"/>
<path d="M206.5,122.4L210,121.4L213.5,122.8L212,124.2L208,123.6Z" fill="#fdd49e" stroke="#62564c" stroke-width="0.45" stroke-linejoin="round"/>
<path d="M215.5,122.8L219,122.4L220.5,124.5L217,124.5Z" fill="#fdd49e" stroke="#62564c" stroke-width="0.45" stroke-linejoin="round"/>
<path d="M203.2,128.2L207.4,126.5L212,127L211,128.7L206,129.9Z" fill="#fdd49e" stroke="#62564c" stroke-width="0.45" stroke-linejoin="round"/>
<path d="M211,129.3L214.7,128.7L215.4,130.1L212.6,131Z" fill="#fdd49e" stroke="#62564c" stroke-width="0.45" stroke-linejoin="round"/>
<path d="M196.6,135.2L201.3,132.4L206.5,132.4L205.5,134.3L203.6,137.1L198.9,137.4Z" fill="#fdd49e" stroke="#62564c" stroke-width="0.45" stroke-linejoin="round"/>
<path d="M207.4,135.2L210.2,132.4L217.5,131.8L216,133.5L210.5,136Z" fill="#fdd49e" stroke="#62564c" stroke-width="0.45" stroke-linejoin="round"/>
<path d="M194.7,141.8L198,140.4L200.4,141.8L198,143.2Z" fill="#fdd49e" stroke="#62564c" stroke-width="0.45" stroke-linejoin="round"/>
<path d="M234,117.5L245,115.8L257,115.2L269,115L276,115.5L269,117.5L261,119L252,121L249,123.5L244,125.5L238,127L226.5,127L225.5,126L232,124.5L236,122L235,120Z" fill="#fdd49e" stroke="#62564c" stroke-width="0.45" stroke-linejoin="round"/>
<path d="M222.5,120.5L226.5,118.5L234,118L235.5,120L232,123L225,123.5L223,122Z" fill="#fdd49e" stroke="#62564c" stroke-width="0.45" stroke-linejoin="round"/>
<path d="M214.5,126.5L220,126L222.5,128L230,128.5L237,129L237.5,130.5L230,131L223,130.8L218,129.5L215,128Z" fill="#fdd49e" stroke="#62564c" stroke-width="0.45" stroke-linejoin="round"/>
<path d="M214.5,138L218,134.2L223.5,135L225,133.5L231,133L233,135.5L238,135L239.5,137L247,139L249,141L246,143.5L252,146.5L254.5,148L249,151.5L245.5,149L243.5,150L245.5,155L242,157L240.5,156L238,157.5L234,155L230.5,152L223.5,152.5L224.5,151.5L232,150.5L236,146.5L237,144L233.5,141.5L229.5,140.5L224.5,141L219,140.5L215,139.5Z" fill="#fdd49e" stroke="#62564c" stroke-width="0.45" stroke-linejoin="round"/>
<path d="M229.5,146L233,144.5L234,145.5L230.5,147Z" fill="#fdd49e" stroke="#62564c" stroke-width="0.45" stroke-linejoin="round"/>
<path d="M205,154L211,150.5L218,154.5L215,156L209,155.5Z" fill="#fdd49e" stroke="#62564c" stroke-width="0.45" stroke-linejoin="round"/>
<path d="M209.5,157.5L213,156.8L214,158L211,158.5Z" fill="#fdd49e" stroke="#62564c" stroke-width="0.45" stroke-linejoin="round"/>
<path d="M216,159.8L218,158.5L218.6,160.5L217,161Z" fill="#fdd49e" stroke="#62564c" stroke-width="0.45" stroke-linejoin="round"/>
<path d="M253.5,124L259.5,121L276,116.5L298.5,115.8L306,114.7L330,114.7L333,116.8L344.5,117.7L336,119.5L333,124.8L331.5,130L325.5,135.2L321,140.5L312,143.5L303,146.5L295.5,149.5L289.5,155.5L285,160L279.8,163.3L273.8,161.5L270,155.5L269.2,149.5L272.2,143.5L276,139.8L272.2,136L273.8,132.2L270,127.8L259.5,127L254.2,125.5Z" fill="url(#hatch)" stroke="#cfcfcf" stroke-width="0.45" stroke-linejoin="round"/>
<path d="M251.4,184.5L248.1,186.5L245.1,189.6L242.4,192.4L240.5,194.4L244.1,194.7L247.2,195L248.2,196.5L250.8,195.2L251.7,197.3L253,196.8L254,194.7L253.5,192.9L252.3,191.9L253.6,190.3L250.6,190.1L249.1,188.5L249,186.8Z" fill="#fdd49e" stroke="#62564c" stroke-width="0.45" stroke-linejoin="round"/>
<path d="M231.9,188.9L235.5,189.7L236.8,190.6L233.7,190.3Z" fill="#fdd49e" stroke="#62564c" stroke-width="0.45" stroke-linejoin="round"/>
<path d="M229.6,197L231.9,197.7L233.9,197.8L232.4,198.8L230,198.3Z" fill="#fdd49e" stroke="#62564c" stroke-width="0.45" stroke-linejoin="round"/>
<path d="M104.1,186.6L108.1,187.5L109.3,189.3L110.5,191.4L109.7,192.9L107.4,192.1L105.7,190.3L103.9,188.3Z" fill="#fdd49e" stroke="#62564c" stroke-width="0.45" stroke-linejoin="round"/>
<path d="M101.5,178.2L103.7,178.3L101.8,180.4L101.1,183.2L100.2,181.2Z" fill="#fdd49e" stroke="#62564c" stroke-width="0.45" stroke-linejoin="round"/>
<path d="M67.3,170.3L67.8,171L72.4,169.8L73.2,168.3L71.3,168.8Z" fill="#fc8d59" stroke="#62564c" stroke-width="0.45" stroke-linejoin="round"/>
<path d="M53.8,155.1L55.6,156L57.7,156L57.4,155.3L56.2,154.9Z" fill="#fc8d59" stroke="#62564c" stroke-width="0.45" stroke-linejoin="round"/>
<path d="M51.2,163.2L52.8,164L54.3,163.4L53.9,162.7Z" fill="#fc8d59" stroke="#62564c" stroke-width="0.45" stroke-linejoin="round"/>
<path d="M107,168.8L107.2,170.3L105.6,173.5L105.4,175.9L103.7,175.4L103.3,173L104.2,169.8Z" fill="#fc8d59" stroke="#62564c" stroke-width="0.45" stroke-linejoin="round"/>
<path d="M4.8,267.8L5.6,266.5L7.1,267.5L7.4,268.4L5.4,269.9L4.8,269Z" fill="#fc8d59" stroke="#62564c" stroke-width="0.45" stroke-linejoin="round"/>
<path d="M4,264.8L5,264.6L5.5,265.3L4.5,265.5Z" fill="#fc8d59" stroke="#62564c" stroke-width="0.45" stroke-linejoin="round"/>
<path d="M0.9,263L1.7,262.6L2,263.7L1.1,263.7Z" fill="#fc8d59" stroke="#62564c" stroke-width="0.45" stroke-linejoin="round"/>
<path d="M-2.2,261.6L-1.2,261.3L-1.4,262.1L-2.1,262.1Z" fill="#fc8d59" stroke="#62564c" stroke-width="0.45" stroke-linejoin="round"/>
<path d="M168.6,262.2L170.9,260L173.8,259L177.2,258.8L180.1,259.5L183.3,260.8L186.1,262.6L189.3,264.5L192.5,266.5L190.6,267.4L184.6,267.5L186,265.8L182.9,264.5L182.6,262.9L178.7,261.9L175.8,261.3L175,260.3L171,261.3Z" fill="#fee8c8" stroke="#62564c" stroke-width="0.45" stroke-linejoin="round"/>
<path d="M182.4,271.5L184.4,271.1L187.1,271.9L187.2,272.7L184.9,273.1L182.7,272Z" fill="#fee8c8" stroke="#62564c" stroke-width="0.45" stroke-linejoin="round"/>
<path d="M184.1,249.5L186.4,249.2L188.1,250L186.9,250.4L184.7,250.1Z" fill="#fee8c8" stroke="#62564c" stroke-width="0.45" stroke-linejoin="round"/>
<path d="M184.8,253.4L186,253.5L185.8,255.8L185.3,256.3L184.5,255.3Z" fill="#fee8c8" stroke="#62564c" stroke-width="0.45" stroke-linejoin="round"/>
<path d="M193.9,264L195.6,263.7L195.2,264.6L193.9,264.6Z" fill="#fee8c8" stroke="#62564c" stroke-width="0.45" stroke-linejoin="round"/>
<path d="M208,271.1L211.6,271.2L211.7,272L207.9,272.5Z" fill="url(#hatch)" stroke="#cfcfcf" stroke-width="0.45" stroke-linejoin="round"/>
<path d="M218.8,291.5L221,291.2L220.8,293.2L218.7,293.4Z" fill="#fee8c8" stroke="#62564c" stroke-width="0.45" stroke-linejoin="round"/>
<g clip-path="url(#c3)">
<rect x="-100" y="0" width="1000" height="600" fill="#fc8d59"/>
<path d="M209.2,380L211.2,377.3L213.6,378.1L215.6,380L216.3,377.8L219.5,378.5L223.6,382.6L228.4,384.7L231.8,386.7L230.1,391.6L235.4,392.1L236.5,392.1L238.7,387.3L241.1,388.9L241,391.4L236.9,394.7L233.5,399.5L238.3,406.8L248.6,414.8L246.5,466.2L215.7,466.2L188.9,377.8Z" fill="#fdd49e" stroke="#62564c" stroke-width="0.45" stroke-linejoin="round"/>
<path d="M209.2,380L209.7,380.5L209.4,383.1L206.8,384.4L208.1,390.8L206.7,393.1L205.7,396.6L205.9,400L205.3,402.6L207.1,406.8L208.5,410L207.8,412.6L208.3,415L207.2,416.6L208.9,421.3L208,424.2L208.8,427.6L209.8,430.7L210.4,434.4L212.4,437.8L213.9,440.9L213.9,444L214.5,447.6L212.9,449.4L215.4,452.9L216.8,452.9L217.9,455.5L219,456.2L222.8,456.2L226.3,457.1L231.1,466.2L211.8,466.2L182.6,362L207.9,362Z" fill="#fdd49e" stroke="#62564c" stroke-width="0.45" stroke-linejoin="round"/>
<path d="M233.5,399.5L233.2,403.9L233.5,406.8L233.5,409.5L233.2,414.8L248.6,414.8L244.4,408.8L244.4,406.1L242.3,403.9L238.3,401.2L237.4,401Z" fill="#fee8c8" stroke="#62564c" stroke-width="0.45" stroke-linejoin="round"/>
<path d="M219.5,378.5L223.6,382.6L228.4,384.7L231.8,386.7L230.1,391.6L235.4,392.1L236.5,392.1L238.7,387.3L238.9,383.3L236.4,383L235.6,379.4L234.2,378.5L230.3,378.1L229.9,374.4L229.2,373L228.1,368.6L217.7,368.6Z" fill="#fee8c8" stroke="#62564c" stroke-width="0.45" stroke-linejoin="round"/>
<path d="M201,348.7L203.3,349.1L207.8,345.9L210.8,345.7L210.8,350.7L213.3,352.8L217.1,354.1L221.3,355.4L222.5,356.2L223.7,362.8L228.1,362.8L228,365.2L230.2,367.3L229.8,369.9L229.2,372L229.2,373L226.9,370.9L221,371.7L219.8,373.9L219.5,378.5L216.3,377.8L215.6,380L213.6,378.1L211.2,377.3L209.2,380L207.6,379.2L206.6,376.5L206,374.9L204.5,369.9L202.5,366L199,364.7L197.7,348.8Z" fill="#fdd49e" stroke="#62564c" stroke-width="0.45" stroke-linejoin="round"/>
<path d="M199.4,330.9L197.5,330.9L192.7,333.6L192,335.9L190.3,339.4L192.8,343.8L194.6,346.2L198.4,344.9L198.7,348.8L201,348.7L203.3,353.1L202.8,355.7L202.9,360.2L202.3,361.2L203.4,363.3L202.5,366L200.7,368.2L197.5,372.6L167.4,346.2L168.8,319.9L187.5,317.2L199.2,322.5Z" fill="#fdd49e" stroke="#62564c" stroke-width="0.45" stroke-linejoin="round"/>
<path d="M199.4,330.9L197.7,329.9L199.1,327L195.2,325.6L192.5,326.2L190.8,323.3L186.8,320.1L180.6,325.1L173.6,314.6L179.9,298.8L182.9,299L182.7,297L186.5,285.6L200.5,284.3L204.4,296.1L206.5,316.7L203.4,315.2L199.7,315.4L199.5,317L201,318.3L199,318.4L199,320.4L200.6,322.5Z" fill="#fdd49e" stroke="#62564c" stroke-width="0.45" stroke-linejoin="round"/>
<path d="M186.8,320.1L184.5,318.8L181.9,318.8L181.2,317.7L178.7,316L175.9,313.3L171.2,319.9L171.3,329.1L175.3,328.8L175.1,331.4L176.8,331.7L178.4,333L179.1,332L179.7,328.8L181.1,327.8L183.8,326.7L186.1,323.8Z" fill="#fee8c8" stroke="#62564c" stroke-width="0.45" stroke-linejoin="round"/>
<path d="M197.1,288.6L195,290.6L193.2,292.4L192.8,295.3L194.1,297.7L193.9,300.3L195.1,301.4L199.3,301.4L200.9,303.8L205.3,303.5L204.5,308L205.6,310.6L204.4,312.5L206,315.4L206.5,316.7L207.8,317.9L209.9,318L213,314.8L214.6,314.1L213.2,313.3L211.9,309L216.1,309.3L219.4,308L220.9,306.1L227.4,304L228,288.2L200.5,284.3Z" fill="#fdbb84" stroke="#62564c" stroke-width="0.45" stroke-linejoin="round"/>
<path d="M223,297.4L223.4,298L221.2,300.1L222.1,301.4L220.1,302.2L219.5,304.2L220.9,306.1L222.7,306.7L223.1,310.4L222.8,313.5L224.8,316.4L227.2,315.9L230.7,314.8L234.2,311.9L234.5,298.8L225.4,294.8Z" fill="#fee8c8" stroke="#62564c" stroke-width="0.45" stroke-linejoin="round"/>
<path d="M229.5,304.3L229,306.7L227.3,309.3L228.9,311.2L230.7,314.8L232.1,313.3L235.1,313.8L241.2,311.9L241.4,301.4L229.8,301.4Z" fill="#fee8c8" stroke="#62564c" stroke-width="0.45" stroke-linejoin="round"/>
<path d="M236.7,304.4L235.7,306.7L236.6,310.4L235.1,313.8L239.1,314.1L242.1,308.9L246,306.7L241.4,301.4L236.8,301.4Z" fill="url(#hatch)" stroke="#62564c" stroke-width="0.45" stroke-linejoin="round"/>
</g>
<path d="M182.7,297L183.6,298.8L185.1,296.4L186.6,294.5L187.2,292.2L188.9,290.7L190.6,290.1L193.2,289.8L195.1,288.2L196.4,287L197.5,287.4L197.1,288.6L195.7,290.1L196.3,291.1L195.3,293L195.6,295.1L197,295.6L197.6,293.5L196.8,291.1L199.4,289.8L199.8,288.2L200.7,287.7L200.8,289.5L203.4,290.1L204.2,291.9L207,292L208.8,291.9L211.5,293.2L213.2,292.2L216.3,291.6L218.6,291.6L216.9,292.7L219.6,293.8L221,295.3L223,297.4L224.8,298.5L226.3,300.6L227.9,303L229.5,304.3L232.3,304.3L234.4,304L236.7,304.4L239.2,305.6L241.3,307.5L242.1,308.9L243.3,309.6L244.2,314.3L246,316.7L244.9,319.3L247.4,319.3L249.3,320.6L249.5,322.2L251.6,321.4L255.1,322.7L257.5,323.8L258.9,326.2L261,326.2L265.7,327.5L269.2,327.4L272.7,329.6L275.8,332.5L280.2,333.6L281.2,337L281.5,339.6L280.9,343.6L277.9,347.5L275.9,350.2L273.3,354.1L272.3,358.1L272.6,363.3L272.1,367.3L271.2,371.8L269,376.5L266.7,380.4L264,380.5L260.6,381.3L257.1,383.1L253.7,385.8L252.4,388.4L252.8,392.6L252.7,395.2L250.4,398.4L248.2,401.6L246.6,404.5L244.4,408.8L243.8,410.5L241.7,412L238.8,411.9L235.1,410.7L233.8,410.3L233.8,411.1L236.8,412.9L237.1,415.3L238.5,415.8L237.4,420L234.8,421.8L230.7,422.6L228,422.4L228.5,425.3L229.1,427.6L226.1,428.1L223.1,427.6L224.2,430.5L227.5,431.8L225.9,432.8L225.2,433.9L225.5,437L225.3,438.3L222.2,440.9L225.1,443.5L227,444.7L224.9,449.4L223.2,451.9L223.3,453.7L226.3,457.1L224.4,457.7L222.1,458.8L222.4,460.9L219.5,460L216.6,458L213.8,456.2L211.1,452.4L208.2,447.3L206,442.7L208.5,440.4L207.9,435.7L208,431.8L205.1,429.4L204.3,426.8L204.1,424.7L202.9,420L202.9,417.6L203.1,413.4L203.9,408.4L203.8,406.8L202.9,401.6L202.3,398.7L202.1,395L202.5,391L202.6,386.8L202.2,382.1L202.2,377.8L201.8,373.1L201,368.6L200.7,368.2L198.1,365.7L195,363.7L188.9,360.4L186,356.8L185.6,354.9L183.8,351.6L181.4,347L179.8,343.8L177.5,340.1L176.5,338L173.6,335.9L173,332.2L173.9,330.1L175.3,328.8L176.2,326.7L175.4,325.9L173.6,325.6L173.8,322.5L175.6,319.9L175.6,317.7L178.2,317L178.7,316L179.2,313.3L181.8,312.7L182.8,309.6L182,305.4L182.3,302.2L181.2,300.9L182.9,299Z" fill="none" stroke="#62564c" stroke-width="0.45" stroke-linejoin="round"/>
<g clip-path="url(#c4)">
<rect x="-100" y="0" width="1000" height="600" fill="#fdd49e"/>
<path d="M225.6,456.2L228.7,463.5L233,464L240.2,465L236.8,456.2Z" fill="#fdd49e" stroke="#62564c" stroke-width="0.45" stroke-linejoin="round"/>
</g>
<path d="M226.3,457.9L223.6,458.1L222.8,460.3L224.2,461.8L221.4,462L224.1,463.8L228.6,465L232.8,465.7L233.3,464.3L235.1,462.9L232.2,462.1L229.5,460.8L227.6,459.3Z" fill="none" stroke="#62564c" stroke-width="0.45" stroke-linejoin="round"/>
<path d="M205.1,430.1L206.2,430.7L207.2,433.9L205.6,434.1L204.8,431.8Z" fill="#fdd49e" stroke="#62564c" stroke-width="0.45" stroke-linejoin="round"/>
<g clip-path="url(#c5)">
<rect x="-100" y="0" width="1000" height="600" fill="#ef6548"/>
<path d="M357.6,227.3L358.4,228.9L358.6,232.1L359.6,235.2L356,235.5L354.4,236.3L354.4,238.4L351.4,239.4L350.1,241L346.5,241.8L342.9,244.2L342.9,247L342.8,247.9L351.4,253.9L351.4,253.9L365,264.2L366.5,265.5L369.6,267.9L369.6,269.6L372.2,269.4L372.2,269.4L375.5,268.2L382,263L389.7,257.8L389.7,257.8L386.9,255.1L385.8,255.5L385,254.1L384.8,252.9L383.4,251L384.3,250L384.1,248.3L384.4,246.8L384.2,245.6L384.5,243.4L383.6,240L383.6,240L382.5,235.2L381,233.5L379.2,231.9L380.3,228.5L380.8,226.3L380.3,223.8L381.2,222.4L381.1,219.7L357.6,222.3Z" fill="#fdd49e" stroke="#62564c" stroke-width="0.45" stroke-linejoin="round"/>
<path d="M383.6,240L384.5,243.4L384.2,245.6L384.4,246.8L384.1,248.3L384.3,250L383.4,251L384.8,252.9L385,254.1L385.8,255.5L386.9,255.1L389.7,257.8L389.7,257.8L393.4,259.1L394.7,260.5L396.6,259.2L396.6,259.2L398.6,258.2L417.4,268.4L417.4,268.4L417.4,267.1L419.7,267.1L419.5,261.9L419.5,261.9L418.5,242.7L417.7,240.6L418,239L418.4,236.4L417.6,230.2L386.7,230.2L388,232.5L388,232.5L387.8,234.6L386.1,236.1L385.3,236.3L384.7,238.3L383.6,240Z" fill="#fee8c8" stroke="#62564c" stroke-width="0.45" stroke-linejoin="round"/>
<path d="M418.4,236.4L418,239L417.7,240.6L418.5,242.7L419.5,261.9L419.5,261.9L434.1,261.9L438.2,261.9L446.6,261.9L449.1,261.9L442.5,235.5L417.8,232.9Z" fill="#fdbb84" stroke="#62564c" stroke-width="0.45" stroke-linejoin="round"/>
<path d="M446.6,261.9L438.2,261.9L434.1,261.9L419.5,261.9L419.5,261.9L419.7,267.1L417.4,267.1L417.4,268.4L417.4,268.4L417.8,278.5L415.3,278.5L414.5,280.6L413.9,282.2L413.5,286.5L414.5,288.2L415.5,291.1L415.5,291.1L417.1,293.2L416.8,296.1L418.6,296.9L418.6,296.9L420,294L422.3,292.4L423.9,294.7L427.4,295.1L429.7,294.5L430.9,294L433.9,294.3L435.2,294L437.5,289L437.2,288.2L439.3,287.7L439.2,291.6L440.6,292.6L441.2,294.5L441.6,294.8L441.6,294.8L442,291.9L443.1,291.4L443.5,288.5L444.8,286.6L446.1,286.4L446.7,282.3L446.7,282.3L446.5,279.9L447.4,276.9L447.6,274.9L448.7,274.2L450.9,272.4L454,267.1L449,259.2Z" fill="#fc8d59" stroke="#62564c" stroke-width="0.45" stroke-linejoin="round"/>
<path d="M417.4,268.4L398.6,258.2L396.6,259.2L396.6,259.2L398.8,266.1L398,269.8L398.1,275.3L397.2,276.1L393.6,281.6L393.8,283.7L393.8,283.7L395,285.4L395,285.4L396,285.8L396.9,287.7L397.3,289.5L397.2,291.1L398.4,293.5L396.3,293.8L394.8,294.7L397.3,296.9L398.4,299.9L398.4,299.9L401,299.6L403.8,299L406.5,296.3L409.1,295.9L412.7,292L415.5,291.1L415.5,291.1L414.5,288.2L413.5,286.5L413.9,282.2L414.5,280.6L415.3,278.5L417.8,278.5L417.4,268.4Z" fill="#ef6548" stroke="#62564c" stroke-width="0.45" stroke-linejoin="round"/>
<path d="M372.2,269.4L375.5,268.2L382,263L389.7,257.8L389.7,257.8L393.4,259.1L394.7,260.5L396.6,259.2L396.6,259.2L398.8,266.1L398,269.8L398.1,275.3L397.2,276.1L393.6,281.6L393.8,283.7L393.8,283.7L391.3,285.3L387.2,284.7L384.4,286L380.4,284.7L378.4,285.6L374.9,283.3L372.6,283.7L371.9,284.3L370.7,289L370.7,289L369,287.4L368,288.5L368,288.5L367.5,286.4L364.7,285.1L363.3,282.9L362.9,280.3L362.9,280.3L365.6,279.5L370.5,279.4L372.1,277.7L372.1,275.3L372.2,269.4Z" fill="#ef6548" stroke="#62564c" stroke-width="0.45" stroke-linejoin="round"/>
<path d="M351.4,253.9L365,264.2L366.5,265.5L369.6,267.9L369.6,269.6L372.2,269.4L372.2,269.4L372.1,275.3L372.1,277.7L370.5,279.4L365.6,279.5L362.9,280.3L362.9,280.3L360.8,280.2L357.8,282.4L355.7,284L354.3,285.1L352.5,285.1L352.2,286.8L350.3,289L350.1,289.8L349.6,292.4L349.6,292.4L348,292.2L346.4,292.6L343.8,293L343.8,293L343.2,290.9L342.9,289.8L341.3,287.4L338.8,288.6L337.2,287.7L336,287.2L336,287.2L335.6,285.3L334.6,284L334.2,281.4L334.2,281.4L335.2,280.8L336.2,279.3L337.7,280L340.4,279L349.7,279L350.2,277.1L349.7,276.9L347.8,253.9L351.4,253.9Z" fill="#ef6548" stroke="#62564c" stroke-width="0.45" stroke-linejoin="round"/>
<path d="M351.4,253.9L347.8,253.9L349.7,276.9L350.2,277.1L349.7,279L340.4,279L337.7,280L336.2,279.3L335.2,280.8L334.2,281.4L334.2,281.4L332.9,279.5L331.5,277.7L329.9,276.9L328.8,276.1L327.6,276.1L326.5,276.6L325.3,276.4L324.4,277.5L320.9,277.7L321.3,263.6L332.5,263.6L332.8,259.2L335.1,258L335.2,251.3L342.8,251.3L342.8,247.9L342.8,247.9L351.4,253.9Z" fill="#fdd49e" stroke="#62564c" stroke-width="0.45" stroke-linejoin="round"/>
<path d="M357.6,227.3L358.4,228.9L358.6,232.1L359.6,235.2L356,235.5L354.4,236.3L354.4,238.4L351.4,239.4L350.1,241L346.5,241.8L342.9,244.2L342.9,247L332.6,247L328.6,246L340.5,224.9L358,223.6Z" fill="#fdd49e" stroke="#62564c" stroke-width="0.45" stroke-linejoin="round"/>
<path d="M332.6,247L342.9,247L342.8,251.3L335.2,251.3L335.1,258L332.8,259.2L332.5,263.6L321.3,263.6L321.9,246Z" fill="url(#hatch)" stroke="#62564c" stroke-width="0.45" stroke-linejoin="round"/>
<path d="M383.6,240L382.5,235.2L381,233.5L379.2,231.9L380.3,228.5L380.8,226.3L380.3,223.8L381.2,222.4L381.9,218.4L388.4,219.7L390.1,232.9L388,232.5L387.8,234.6L386.1,236.1L385.3,236.3L384.7,238.3L383.6,240Z" fill="#fee8c8" stroke="#62564c" stroke-width="0.45" stroke-linejoin="round"/>
<path d="M370.7,289L371.9,284.3L372.6,283.7L374.9,283.3L378.4,285.6L380.4,284.7L384.4,286L387.2,284.7L391.3,285.3L393.8,283.7L393.8,283.7L395,285.4L395,285.4L395.3,287.2L396.2,289.5L395.3,290.2L393.3,293.2L393.1,294.5L392.1,297.2L390.8,297.7L389.9,301.4L388.2,302.5L386.8,301.4L385.9,301.7L383.8,303L383.1,304.6L382.2,307.3L381,311.9L368.7,306.7L368.7,303.1L368.8,299L368.7,297.4L369.4,295.9L370.8,293L371.2,291.6L370.7,289Z" fill="#b30000" stroke="#62564c" stroke-width="0.45" stroke-linejoin="round"/>
<path d="M382.2,307.3L383.1,304.6L383.8,303L385.9,301.7L386.8,301.4L388.2,302.5L389.9,301.4L390.8,297.7L392.1,297.2L393.1,294.5L393.3,293.2L395.3,290.2L396.2,289.5L395.3,287.2L395,285.4L395,285.4L396,285.8L396.9,287.7L397.3,289.5L397.2,291.1L398.4,293.5L396.3,293.8L394.8,294.7L397.3,296.9L398.4,299.9L398.4,299.9L397.8,300.3L396.4,303.5L396.3,305.9L396.6,307.7L397.3,309.6L399.9,312.2L400.2,314.1L400.2,314.1L399.5,315.2L396.2,314.1L393.4,314.1L393.4,314.1L388.9,313.8L385.2,313.8L382.2,313.8L381,308Z" fill="#ef6548" stroke="#62564c" stroke-width="0.45" stroke-linejoin="round"/>
<path d="M400.2,314.1L399.9,312.2L397.3,309.6L396.6,307.7L396.3,305.9L396.4,303.5L397.8,300.3L398.4,299.9L398.4,299.9L401,299.6L403.8,299L406.5,296.3L409.1,295.9L412.7,292L415.5,291.1L415.5,291.1L417.1,293.2L416.8,296.1L418.6,296.9L418.6,296.9L421.2,300.6L424.1,304L426.2,306.3L426.2,306.3L421.3,306.5L419.2,306.4L415.5,307.5L414.6,309L411.1,308.3L407.6,306.4L405.7,308.4L405.6,310.4L405.6,310.4L402.2,310.5L400.9,311.5L400.2,314.1Z" fill="#fc8d59" stroke="#62564c" stroke-width="0.45" stroke-linejoin="round"/>
<path d="M418.6,296.9L420,294L422.3,292.4L423.9,294.7L427.4,295.1L429.7,294.5L430.9,294L433.9,294.3L435.2,294L437.5,289L437.2,288.2L439.3,287.7L439.2,291.6L440.6,292.6L441.2,294.5L441.6,294.8L441.6,294.8L441.6,297.2L439.1,297.7L439.1,299.3L441.5,300.9L442.7,301.7L443.9,304L444.6,305.6L445.8,305.9L446,307.7L446,307.7L441.6,308.8L441.6,308.8L440.5,310L437.4,310.4L436.7,309.8L435.1,309.8L434.3,310.6L434.3,310.6L432.3,308.8L431.1,308.3L428.6,308.5L426.2,306.3L426.2,306.3L424.1,304L421.2,300.6L418.6,296.9Z" fill="#fc8d59" stroke="#62564c" stroke-width="0.45" stroke-linejoin="round"/>
<path d="M441.6,294.8L442,291.9L443.1,291.4L443.5,288.5L444.8,286.6L446.1,286.4L446.7,282.3L446.7,282.3L449.3,282.4L449.9,280.6L452.5,281.4L454.8,281.8L456.9,282.7L458.9,284.5L460.6,287L460.6,287L459.2,289.5L459.3,290.9L462,290.9L462,290.9L461.6,292.2L463.4,294.8L464.6,296.1L471.7,298.8L474,298.8L467.2,306.7L464.9,306.8L462.6,307.7L460.2,309L460,309.4L460,309.4L457.4,308.6L455.4,309.7L454.4,310.8L451.2,310.4L448.6,308.3L446.4,308.1L446,307.7L446,307.7L445.8,305.9L444.6,305.6L443.9,304L442.7,301.7L441.5,300.9L439.1,299.3L439.1,297.7L441.6,297.2L441.6,294.8Z" fill="#d7301f" stroke="#62564c" stroke-width="0.45" stroke-linejoin="round"/>
<path d="M450.9,272.4L448.7,274.2L447.6,274.9L447.4,276.9L446.5,279.9L446.7,282.3L446.7,282.3L449.3,282.4L449.9,280.6L452.5,281.4L454.8,281.8L456.9,282.7L458.9,284.5L460.6,287L460.6,287L462.2,286.4L464.1,282.9L454.3,272.4Z" fill="#fdbb84" stroke="#62564c" stroke-width="0.45" stroke-linejoin="round"/>
<path d="M460.6,287L459.2,289.5L459.3,290.9L462,290.9L462,290.9L462.7,289.7L464.3,288.2L463.1,285.6L462.2,286.4L460.6,287Z" fill="#fdd49e" stroke="#62564c" stroke-width="0.45" stroke-linejoin="round"/>
<path d="M462.7,289.7L462,290.9L462,290.9L461.6,292.2L463.4,294.8L464.6,296.1L471.7,298.8L474,298.8L467.2,306.7L464.9,306.8L462.6,307.7L460.2,309L460,309.4L460,309.4L458,312.5L458,322.1L459.3,324.2L462.6,327.8L485.4,293.5L482.7,285.6L463.2,288.2Z" fill="#ef6548" stroke="#62564c" stroke-width="0.45" stroke-linejoin="round"/>
<path d="M446,307.7L446.4,308.1L448.6,308.3L451.2,310.4L454.4,310.8L455.4,309.7L457.4,308.6L460,309.4L460,309.4L458,312.5L458,322.1L459.3,324.2L460.2,333L453.7,332.1L453.7,332.1L450.4,329.5L450.3,328L441.4,322.5L441.4,322.5L441.5,319.6L441.7,319.1L443,317L444,314.8L442.8,310.5L441.6,308.8L441.6,308.8L446,307.7Z" fill="#ef6548" stroke="#62564c" stroke-width="0.45" stroke-linejoin="round"/>
<path d="M441.6,308.8L440.5,310L437.4,310.4L436.7,309.8L435.1,309.8L434.3,310.6L434.3,310.6L434.1,313.5L435.4,314.2L433.5,315.6L432.2,317.7L431.4,321.4L431.4,323.4L433.4,322.6L433.4,322.6L434.2,322.5L441.4,322.5L441.4,322.5L441.5,319.6L441.7,319.1L443,317L444,314.8L442.8,310.5L441.6,308.8Z" fill="#fc8d59" stroke="#62564c" stroke-width="0.45" stroke-linejoin="round"/>
<path d="M426.2,306.3L421.3,306.5L419.2,306.4L415.5,307.5L414.6,309L411.1,308.3L407.6,306.4L405.7,308.4L405.6,310.4L426.2,306.3L428.6,308.5L431.1,308.3L432.3,308.8L434.3,310.6L434.3,310.6L434.1,313.5L435.4,314.2L433.5,315.6L432.2,317.7L431.4,321.4L431.4,323.4L431.4,323.4L430.2,324.6L430.6,325.4L430,327.1L430.6,328.5L430.9,331.6L431.3,336.2L433.5,341.5L433.9,341.6L433.9,341.6L429.8,342L428.9,345.2L428.2,351L429.6,352.4L431,352L431.3,355.3L429.5,355.2L428,352.8L425.4,350.4L422.6,351.2L421.1,349.4L419,349.6L417.9,348.6L417.9,348.6L413.9,349.1L414.1,347.5L413,344.9L413.3,341.7L413.1,339.1L410.3,338.2L410.1,338.3L407.5,338.3L406.6,340.9L403.1,341.1L401.7,338.8L401,335.4L392.7,335.4L391,335.9L390.8,335.1L391.5,334.9L392.9,332.1L392.9,332.1L395.9,332.6L395.9,331.2L398,331.2L400.2,325.6L403.9,321.2L404.1,317.2L404.6,313.8L405.6,310.4Z" fill="#d7301f" stroke="#62564c" stroke-width="0.45" stroke-linejoin="round"/>
<path d="M433.4,322.6L434.2,322.5L441.4,322.5L441.4,322.5L450.3,328L450.4,329.5L453.7,332.1L457.9,333L457.5,347.5L456.3,347.5L451.7,349.6L449.3,350.7L445.4,350.3L442.6,350.3L442.6,350.3L442.5,346.7L441.1,344.9L438.9,344.6L438.9,344.6L438.6,344.2L435.7,342.9L433.9,341.6L433.5,341.5L431.3,336.2L430.9,331.6L430.9,331.6L431.7,331.6L433.2,329.6L434.1,328.5L433.6,326.2L434.3,325.9L433.4,322.6Z" fill="#ef6548" stroke="#62564c" stroke-width="0.45" stroke-linejoin="round"/>
<path d="M431.4,323.4L433.4,322.6L434.3,325.9L433.6,326.2L432.2,326L431.4,327.2L430,327.1L430.6,325.4L430.2,324.6Z" fill="#fdbb84" stroke="#62564c" stroke-width="0.45" stroke-linejoin="round"/>
<path d="M430,327.1L431.4,327.2L432.2,326L433.6,326.2L434.1,328.5L433.2,329.6L431.7,331.6L430.9,331.6L430.6,328.5Z" fill="#fdbb84" stroke="#62564c" stroke-width="0.45" stroke-linejoin="round"/>
<path d="M405.6,310.4L402.2,310.5L400.9,311.5L400.2,314.1L400.2,314.1L399.5,315.2L396.2,314.1L393.4,314.1L393.4,314.1L393.4,316.4L395,316.2L395.7,316.7L394.7,320.4L395.7,323.3L396.1,324.9L394.8,326.2L392.7,326.2L391.5,325.9L389.4,327L390.1,328.8L388.3,330.3L385.7,331.7L389.2,334.3L390.3,333L391.7,331.7L392.9,332.1L392.9,332.1L395.9,332.6L395.9,331.2L398,331.2L400.2,325.6L403.9,321.2L404.1,317.2L404.6,313.8L405.6,310.4Z" fill="#fdd49e" stroke="#62564c" stroke-width="0.45" stroke-linejoin="round"/>
<path d="M388.3,330.3L390.1,328.8L389.4,327L391.5,325.9L392.7,326.2L394.8,326.2L396.1,324.9L395.7,323.3L394.7,320.4L395.7,316.7L395,316.2L393.4,316.4L393.4,314.1L393.4,314.1L388.9,313.8L388.9,317.2L384.8,317.2L378.7,317.2L381,330.4Z" fill="#fdd49e" stroke="#62564c" stroke-width="0.45" stroke-linejoin="round"/>
<path d="M385.2,313.8L388.9,313.8L388.9,317.2L384.8,317.2L383.4,315.9Z" fill="#fdd49e" stroke="#62564c" stroke-width="0.45" stroke-linejoin="round"/>
<path d="M391,335.9L392.7,335.4L401,335.4L401.7,338.8L403.1,341.1L406.6,340.9L407.5,338.3L410.1,338.3L410.3,338.2L413.1,339.1L413.3,341.7L413,344.9L414.1,347.5L413.9,349.1L417.9,348.6L417.9,348.6L418,353.9L413.3,354.1L413.1,362.6L416,366.1L416,366.1L411.6,367.3L405.9,366.8L404.7,365.7L394.6,365.7L392.3,364.7L389.4,365.3L385.4,364.7L388,335.7Z" fill="#ef6548" stroke="#62564c" stroke-width="0.45" stroke-linejoin="round"/>
<path d="M390.8,335.1L389.2,334.3L390.3,333L391.7,331.7L392.9,332.1L391.5,334.9Z" fill="#ef6548" stroke="#62564c" stroke-width="0.45" stroke-linejoin="round"/>
<path d="M438.9,344.6L438.6,344.2L435.7,342.9L433.9,341.6L433.9,341.6L429.8,342L428.9,345.2L428.2,351L429.6,352.4L431,352L431.3,355.3L429.5,355.2L428,352.8L425.4,350.4L422.6,351.2L421.1,349.4L419,349.6L417.9,348.6L417.9,348.6L418,353.9L413.3,354.1L413.1,362.6L416,366.1L416,366.1L419.7,366.1L420.5,366.8L420.5,366.8L421.8,367L424.5,367.2L426.9,363.9L429,362L430.4,361.1L432.5,361.1L432.5,361.1L432.1,359.3L439.1,356.8L439.1,356.8L438,355.7L439.5,352.5L439.6,348.8L439.9,346.7L438.9,344.6Z" fill="#fc8d59" stroke="#62564c" stroke-width="0.45" stroke-linejoin="round"/>
<path d="M438.9,344.6L441.1,344.9L442.5,346.7L442.6,350.3L442.6,350.3L443.1,355.4L445.1,358.3L445.1,361.8L443.6,364.9L441.7,362.6L442.2,359.4L441.9,357.8L439.1,356.8L439.1,356.8L438,355.7L439.5,352.5L439.6,348.8L439.9,346.7L438.9,344.6Z" fill="#fc8d59" stroke="#62564c" stroke-width="0.45" stroke-linejoin="round"/>
<path d="M442.6,350.3L445.4,350.3L449.3,350.7L451.7,349.6L456.3,347.5L459.8,348.8L457.2,391L436.7,390.6L434.9,390.5L434.7,388.3L434.7,388.3L435.1,384.3L434.2,381.8L433.8,378.9L433.8,378.9L436.7,376.1L437.2,373.9L438,372L437.4,369.8L438.3,368.2L438.3,363.9L435.8,363.1L432.5,362L432.5,361.1L432.5,361.1L432.1,359.3L439.1,356.8L439.1,356.8L441.9,357.8L442.2,359.4L441.7,362.6L443.6,364.9L445.1,361.8L445.1,358.3L443.1,355.4L442.6,350.3Z" fill="#ef6548" stroke="#62564c" stroke-width="0.45" stroke-linejoin="round"/>
<path d="M420.5,366.8L421.8,367L424.5,367.2L426.9,363.9L429,362L430.4,361.1L432.5,361.1L432.5,361.1L432.5,362L435.8,363.1L438.3,363.9L438.3,368.2L437.4,369.8L438,372L437.2,373.9L436.7,376.1L433.8,378.9L433.8,378.9L431.5,378.8L429.4,378.4L429.4,378.4L428.7,378.4L426.4,376.7L425.8,373.9L424.9,373.9L422,371.5L420.5,368.6L420.5,366.8Z" fill="#fc8d59" stroke="#62564c" stroke-width="0.45" stroke-linejoin="round"/>
<path d="M389.4,365.3L392.3,364.7L394.6,365.7L404.7,365.7L405.9,366.8L411.6,367.3L416,366.1L416,366.1L419.7,366.1L420.5,366.8L420.5,366.8L418.2,367.3L415.9,367.3L410.6,368.1L410.3,377.8L408.1,377.8L407.8,385.1L407.8,385.1L407.4,394.7L405.1,396.2L401.5,395.5L399.4,395.2L391.6,396.3L385.4,364.7Z" fill="#fdd49e" stroke="#62564c" stroke-width="0.45" stroke-linejoin="round"/>
<path d="M420.5,366.8L418.2,367.3L415.9,367.3L410.6,368.1L410.3,377.8L408.1,377.8L407.8,385.1L407.8,385.1L409.2,390.6L411.4,390.6L413.5,388.9L414.6,386.5L418.3,387.9L420.2,387.6L421.2,385.1L423.4,383.8L423.8,382.2L426.9,379.4L429.4,378.4L429.4,378.4L428.7,378.4L426.4,376.7L425.8,373.9L424.9,373.9L422,371.5L420.5,368.6L420.5,366.8Z" fill="#fdd49e" stroke="#62564c" stroke-width="0.45" stroke-linejoin="round"/>
<path d="M399.4,395.2L401.5,395.5L405.1,396.2L407.4,394.7L407.8,385.1L407.8,385.1L409.2,390.6L411.4,390.6L413.5,388.9L414.6,386.5L418.3,387.9L420.2,387.6L421.2,385.1L423.4,383.8L423.8,382.2L426.9,379.4L429.4,378.4L429.4,378.4L431.5,378.8L433.8,378.9L433.8,378.9L434.2,381.8L435.1,384.3L434.7,388.3L434.9,390.5L436.7,390.6L441.2,393.7L423.4,417.4L395.2,414.8L396.2,393.7Z" fill="#ef6548" stroke="#62564c" stroke-width="0.45" stroke-linejoin="round"/>
<path d="M426.7,395.2L428.3,396.6L428.2,398.7L425.9,400.5L423.7,399.7L422.9,397.9L424.6,396Z" fill="#fdbb84" stroke="#62564c" stroke-width="0.45" stroke-linejoin="round"/>
<path d="M434.7,388.3L434.9,390.5L433,391.8L432,390.5L432.1,389.2L433.3,387.7Z" fill="#fdd49e" stroke="#62564c" stroke-width="0.45" stroke-linejoin="round"/>
<path d="M362.9,280.3L363.3,282.9L364.7,285.1L367.5,286.4L368,288.5L368,288.5L367,289.7L365.6,289.7L364.5,290.9L364.5,290.9L362.1,290.6L362.1,290.6L361.2,290.9L355.9,290.9L355.7,291.9L356.1,294.8L356.1,294.8L355.9,293.8L353.1,294L351.3,294L349.6,292.4L349.6,292.4L350.1,289.8L350.3,289L352.2,286.8L352.5,285.1L354.3,285.1L355.7,284L357.8,282.4L360.8,280.2L362.9,280.3Z" fill="#ef6548" stroke="#62564c" stroke-width="0.45" stroke-linejoin="round"/>
<path d="M324.4,277.5L325.3,276.4L326.5,276.6L327.6,276.1L328.8,276.1L329.9,276.9L331.5,277.7L332.9,279.5L334.2,281.4L320.9,277.7L320.7,287.3L323.7,287.3L323.7,287.3L326.5,286.5L327.7,286.4L330.7,286.4L330.7,286.4L333.9,287.3L336,287.2L336,287.2L335.6,285.3L334.6,284L334.2,281.4Z" fill="#fc8d59" stroke="#62564c" stroke-width="0.45" stroke-linejoin="round"/>
<path d="M323.1,285.3L325.8,285.2L326.8,284.7L329.1,284.9L330.5,284.8L330.4,284.1L328.6,283.9L327.5,283.3L326.6,284L323.1,284Z" fill="#fdbb84" stroke="#62564c" stroke-width="0.45" stroke-linejoin="round"/>
<path d="M336,287.2L337.2,287.7L338.8,288.6L341.3,287.4L342.9,289.8L343.2,290.9L343.8,293L343.8,293L344.3,293L343.8,295.1L344.5,297.7L343.3,297.4L342.7,299.9L342.7,299.9L341.2,300.9L340.5,300.3L340.1,297.7L338.5,297.5L338.5,297.5L337.8,295.3L336.4,293.5L333.5,293.8L332.9,295.3L331.5,296L327.6,296.1L325.3,291L327.6,291L327.6,291L328.3,289.5L330.4,289L330.7,286.4L330.7,286.4L333.9,287.3L336,287.2Z" fill="#fc8d59" stroke="#62564c" stroke-width="0.45" stroke-linejoin="round"/>
<path d="M330.7,286.4L327.7,286.4L326.5,286.5L323.7,287.3L321.9,288.2L325.3,292.2L327.6,291L327.6,291L328.3,289.5L330.4,289L330.7,286.4Z" fill="#fdd49e" stroke="#62564c" stroke-width="0.45" stroke-linejoin="round"/>
<path d="M331.5,296L332.9,295.3L333.5,293.8L336.4,293.5L337.8,295.3L338.5,297.5L338.5,297.5L337.8,298.6L336.6,300.3L335.6,301.7L332.1,302.7L328.7,296.1Z" fill="#fc8d59" stroke="#62564c" stroke-width="0.45" stroke-linejoin="round"/>
<path d="M335.6,301.7L336.6,300.3L337.8,298.6L338.5,297.5L338.5,297.5L340.1,297.7L340.5,300.3L341.2,300.9L342.7,299.9L342.7,299.9L343.1,301.7L342.4,302.7L345.2,304.6L344.8,305.9L344.9,308.4L343.8,310.6L334.5,304Z" fill="#fdbb84" stroke="#62564c" stroke-width="0.45" stroke-linejoin="round"/>
<path d="M343.8,293L346.4,292.6L348,292.2L349.6,292.4L349.6,292.4L351.3,294L353.1,294L355.9,293.8L356.1,294.8L356.1,294.8L355.9,296L356.6,298.2L355,303.2L355.2,306.4L355.4,309.3L343.8,310.6L344.9,308.4L344.9,308.4L344.8,305.9L345.2,304.6L342.4,302.7L343.1,301.7L342.7,299.9L342.7,299.9L343.3,297.4L344.5,297.7L343.8,295.1L344.3,293L343.8,293Z" fill="#fc8d59" stroke="#62564c" stroke-width="0.45" stroke-linejoin="round"/>
<path d="M355.2,306.4L355,303.2L356.6,298.2L355.9,296L356.1,294.8L356.1,294.8L355.7,291.9L355.9,290.9L361.2,290.9L362.1,290.6L362.1,290.6L362.2,291.6L363.3,292.7L363.3,296.7L364,298L363.7,301.7L365.2,303.8L365.2,309.3L355.4,309.3Z" fill="#fc8d59" stroke="#62564c" stroke-width="0.45" stroke-linejoin="round"/>
<path d="M365.2,303.8L363.7,301.7L364,298L363.3,296.7L363.3,292.7L362.2,291.6L362.1,290.6L362.1,290.6L364.5,290.9L364.5,290.9L364.3,292.4L365.5,293.5L365.7,295.3L366.2,296.1L366.1,303.5L366.1,306.7Z" fill="#fc8d59" stroke="#62564c" stroke-width="0.45" stroke-linejoin="round"/>
<path d="M366.1,303.5L366.2,296.1L365.7,295.3L365.5,293.5L364.3,292.4L364.5,290.9L364.5,290.9L365.6,289.7L367,289.7L368,288.5L368,288.5L369,287.4L370.7,289L370.7,289L371.2,291.6L370.8,293L369.4,295.9L368.7,297.4L368.8,299L368.7,303.1L368.7,305.4L366.1,305.4Z" fill="#fc8d59" stroke="#62564c" stroke-width="0.45" stroke-linejoin="round"/>
</g>
<path d="M349.5,225.5L350.8,225.2L352.7,227.2L353.8,226.9L355.9,226.8L357.6,227.3L361.1,225.7L362.6,224.9L365.2,223.6L369.1,222.8L373.5,222.8L377.4,222.3L379.4,222.6L381.2,222.4L383.8,221.5L386.4,222.2L385.6,223.9L385.6,225.5L386.8,227.1L384.7,229.4L384.5,230.5L386.5,231L388,232.5L391.7,233.1L395.9,234.4L397.4,237.1L399.4,237.6L402.6,238.7L405.1,240L407,238.4L407,235.2L410.5,233.1L412.5,233.5L414,235L415.8,235.2L418.4,236.4L423,237.2L427.1,238.5L429.1,237.6L431.4,236.5L434.4,237.3L437.1,237.9L438.7,237.3L440.7,242.1L440.2,244.7L439.6,246.7L438,245.2L436.5,243.4L435.3,240.9L435.5,242.6L437.1,245.2L438.7,248.1L440,251.3L441.9,254.5L443.1,256.6L443.5,258.7L446.6,261.9L447.7,268.2L448.2,270.3L450.9,272.4L453.4,278.7L454.7,280.3L457.6,281.6L460.5,285.1L461.3,285.6L462.2,286.4L462.8,288L462.3,289.3L462.7,289.7L466.8,292.3L471.4,290.6L476,290.1L480.1,288.3L481.3,288.6L481.2,292.2L480.4,295.1L478.9,298.5L476.7,304L474.2,308L470.8,312.2L468.1,314.4L465,317.2L461.6,320.8L459.3,324.2L457.7,325.9L456.1,327.2L455.9,328.3L454.8,330.5L453.7,332.1L453.4,333.3L452.7,335.7L453.8,337.8L454.2,340.9L453.7,343.3L454.6,346.2L456.3,347.5L456.2,351.5L456.1,354.1L456.7,358.1L456.4,359.4L454.4,362.6L449.8,365.5L447.2,367L445.5,369.4L442.2,372.2L442.5,374.7L443.4,377.8L443.1,382.9L442.6,384.4L438.4,386.3L436.2,388.3L436.7,390.6L435.8,393.7L434.5,395.8L431.9,398.5L429.3,402.4L424.2,406.8L419,409.4L417.1,410L413.2,409.6L406.4,411.6L403.1,410.4L403,409.2L402.1,406.1L403.1,403.4L401.1,399.5L399.4,395.2L396.6,390L396,385.8L395.4,380.4L393,374.9L390.9,369.1L389.4,365.3L389.6,362L390.4,359.9L393.4,353.1L394.4,348.8L393.1,344.4L393.1,343L391,335.9L390.8,335.1L390.3,333L390,332.5L388.3,330.3L384.8,326.2L382.9,321.7L384.4,318.8L384.1,317.2L385.2,313.8L385.5,312.1L385,309.2L383.1,308L382.2,307.3L378.7,308.3L376.4,308.5L374,305.1L370.3,302.8L368.7,303.1L366.1,303.5L365.2,303.8L361.9,305.2L357.5,307.3L355.2,306.4L353.1,306L348.4,307.2L344.9,308.4L341.4,306.7L337.3,303.2L335.6,301.7L333.3,300.1L331.6,297.4L331.5,296L330.6,294.8L328.5,292.2L327.6,291L326.3,288.6L323.7,287.3L323.5,285.4L323.5,284L322,281.1L324.4,277.5L325.6,272.1L325.3,268.7L323.4,265L323.6,263.6L326.2,257.4L328.3,255.3L329.6,251L332.6,247L333.3,246.2L337.5,243.9L340,242.3L340.9,239.7L340.6,236.8L341.9,234.7L345.6,231.3L347.3,230.1L348.8,227.3Z" fill="none" stroke="#62564c" stroke-width="0.45" stroke-linejoin="round"/>
<path d="M476.6,351.5L478.4,356.8L478.9,360.4L477,361L477.1,364.1L475.9,367.3L474.2,372.6L471.6,379.2L469.3,385.5L464.8,387.2L462.2,385.8L461.2,378.6L463.8,373.1L463.4,368.6L464.7,362.8L469.2,361.5L471.6,359.1L473.4,355.7L475.4,352.8Z" fill="#ef6548" stroke="#62564c" stroke-width="0.45" stroke-linejoin="round"/>
<g clip-path="url(#c6)">
<rect x="-100" y="0" width="1000" height="600" fill="#fdd49e"/>
<path d="M639.4,208L639.8,206.9L639.2,205.3L638.1,203.7L636.3,201.7L637.6,200.6L640.4,201.2L639.7,198.8L638.7,195.5L638.2,192.8L634.7,194.4L631.7,194.4L628.7,191.4L625.6,190.1L620.8,189.1L620,187.9L616.8,185.2L612.3,181.7L609.4,180.4L605.9,179.6L601.3,180.2L600.3,181.5L602.2,182.2L602.6,184.7L603.2,188.5L601.7,189.8L598.8,188.9L598.8,188.9L599,193.2L600.1,193.9L604.1,193.7L605.7,193.9L609.2,195.7L610.2,197L606.5,197L604.2,199.6L602.2,200.4L600.2,202.1L596.1,201.4L598.1,204.8L596.6,205.6L594.2,208L590.4,208L586.2,210.3L578.3,207.9L574.3,207.5L566.5,207.3L562.6,203.2L557.9,201.5L552.1,200.9L550.7,197.3L548,194.4L543.8,192.9L541.1,190.7L540.2,190.8L540.2,190.8L538,192.6L538.8,196L533.5,195.7L533.9,200.1L529.5,201.7L533.1,206.2L532.9,209.1L532.9,209.1L529.7,210.3L527,211.8L525.4,213.4L522.8,213.3L521.1,214.7L521.1,215.9L521.1,215.9L522.4,218.4L524.5,218.6L525.9,221.3L525.5,221.7L524.9,222.2L524.9,222.2L528.1,223.2L529.4,225.5L533.1,226.3L533.1,226.3L536.3,229.4L536.7,231.5L538.2,234.2L536.6,233.9L537.7,236.8L540.3,238.4L543.8,240.2L543.8,240.2L546.6,240.5L549.2,242.1L551.6,243.8L555.5,245.5L558.2,246.2L560.9,246.4L560.9,246.4L562.4,246L563,247.9L563,247.9L564.3,245.5L567.4,246.2L568.9,246.6L568.9,246.6L570.8,246.3L572.4,244.5L574.6,242.6L576.6,243.3L578.1,242.2L581.5,245.5L581.5,245.5L583.7,246.8L585,247.4L585.8,251.3L584,253.7L584.3,256.6L586.8,256.4L587.6,258.7L589.1,259.3L588.8,261.5L591.1,263.3L593.5,263L593.5,263L595,264.1L594.6,260.8L595.4,260.7L595.4,260.7L597.3,260.3L599.5,259.9L602.2,258.3L605.6,259.6L605.7,261.9L607.9,262.8L609.1,263.2L610.6,272.4L619.8,272.4L646,253.9L638.2,224.9L629.7,214.6L629.7,214.6L630.9,212.6L632.6,209.7L635.3,210.5L635,209.2L637,208.2L637.3,206.6L639.4,208Z" fill="#fc8d59" stroke="#62564c" stroke-width="0.45" stroke-linejoin="round"/>
<path d="M598.8,188.9L596.2,188.5L593.3,187.9L590,190.1L587.8,190.7L583.1,190.3L579.4,189.3L576.5,187.8L572.7,188.2L568.6,187L567.5,185.2L562,184.1L559.5,183.2L558.9,186L560.6,187.3L559.7,189.2L553.9,188.5L548.1,186.5L545.7,188L542.8,189.8L541.1,190.7L541.1,190.7L543.8,192.9L548,194.4L550.7,197.3L552.1,200.9L557.9,201.5L562.6,203.2L566.5,207.3L574.3,207.5L578.3,207.9L586.2,210.3L590.4,208L594.2,208L596.6,205.6L598.1,204.8L596.1,201.4L600.2,202.1L602.2,200.4L604.2,199.6L606.5,197L610.2,197L609.2,195.7L605.7,193.9L604.1,193.7L600.1,193.9L599,193.2L598.8,188.9Z" fill="#fee8c8" stroke="#62564c" stroke-width="0.45" stroke-linejoin="round"/>
<path d="M464.1,197.8L463,197.3L461,194.3L459.6,194.4L457.5,192.6L459.1,190.6L457.4,190.2L457.2,187.4L460.8,188.8L460.5,187L463.9,184.2L467.7,184.9L474.7,187L479.5,185.8L482.6,187.1L486,186.5L485.9,185.2L482.3,183.5L483.2,181.2L482.5,178.7L490,177.6L495.2,175.9L496.3,174.9L500.2,175.4L502.1,178.2L507.1,179.7L506.6,178.3L512.8,177.3L512.3,177.9L515.9,179.9L523.3,186.4L528.4,186L529.9,185.9L531.7,187L535.8,189.3L540.2,190.8L540.2,190.8L538,192.6L538.8,196L533.5,195.7L533.9,200.1L529.5,201.7L533.1,206.2L532.9,209.1L532.9,209.1L529.9,207.1L522.8,206.9L519.3,206.1L517.9,206.3L518.3,208L513.1,208.4L513.1,208.4L512.1,209.2L509.8,210.8L508,211.8L504.9,211.4L502.8,209.2L502.2,206.6L499.1,204.8L490.6,203L484.4,199.9L479.4,201.4L481.9,211L481.9,211L480.8,211L478.7,209.1L477,209L474.2,209.7L471.9,209.2L467.2,202.7L469.4,198.8Z" fill="#fee8c8" stroke="#62564c" stroke-width="0.45" stroke-linejoin="round"/>
<path d="M629.7,214.6L630.9,212.6L632.6,209.7L635.3,210.5L635,209.2L637,208.2L637.3,206.6L639.4,208L639.9,208.4L643.9,214.4L641.9,218.9L640.1,218.1L637.8,218.9L637.6,220.2L632.1,221L629.6,215.8Z" fill="#fee8c8" stroke="#62564c" stroke-width="0.45" stroke-linejoin="round"/>
<path d="M640.1,218.1L637.8,218.9L637.6,220.2L634.9,222.3L639.4,230.2L646.8,229.4L647,224.9L641.5,218.1Z" fill="#fdbb84" stroke="#62564c" stroke-width="0.45" stroke-linejoin="round"/>
<path d="M517.6,257.4L518.7,255.8L523.8,254.7L522.8,252.1L521.3,250L519.3,248.7L520.9,246L524.3,246.2L525.9,243.5L526.7,240.9L528.9,238.1L528,236.3L529.9,234.7L527.6,233.4L526.1,231.8L525.6,229.7L526.8,228.4L529.7,228.6L531.7,227.6L533.1,226.3L533.1,226.3L536.3,229.4L536.7,231.5L538.2,234.2L536.6,233.9L537.7,236.8L540.3,238.4L543.8,240.2L560.9,246.4L561.6,250.3L559.4,250.3L555.1,249.3L553.6,248.1L550.3,247.7L545.1,245.1L542.4,243.9L542.3,243.4L543.8,240.2L560.9,246.4L560.9,246.4L562.4,246L563,247.9L563,247.9L563.5,249.3L566.6,249.1L570.4,249.1L568.9,246.6L568.9,246.6L570.8,246.3L572.4,244.5L574.6,242.6L576.6,243.3L578.1,242.2L581.5,245.5L581.5,245.5L581.3,248.1L579.5,248L577.8,251.3L577,253.5L577.7,256.6L574.7,256.4L575,259.2L574.8,261.3L573.8,261.9L573.8,261.9L572.7,259.2L571.4,257.6L571.3,259.2L570,257.9L570,256.3L571.4,255.5L572,253.8L566.1,253.2L565.7,251.3L564.7,251.3L562.4,250.3L562,251.8L562.5,255.3L564,257.5L565,259.7L565.9,262.8L566.3,267.1L552.4,288.2L543.9,302.7L528.6,280.3L515.6,264.5Z" fill="#7f0000" stroke="#62564c" stroke-width="0.45" stroke-linejoin="round"/>
<path d="M517.6,257.4L518.7,255.8L523.8,254.7L522.8,252.1L521.3,250L519.3,248.7L520.9,246L524.3,246.2L525.9,243.5L526.7,240.9L528.9,238.1L528,236.3L529.9,234.7L527.6,233.4L526.1,231.8L525.6,229.7L526.8,228.4L529.7,228.6L531.7,227.6L533.1,226.3L533.1,226.3L529.4,225.5L528.1,223.2L524.9,222.2L524.9,222.2L522.3,222.6L519.3,223.9L519.5,226.3L519.1,229.2L516.9,230.2L517.2,232.6L516.5,235.5L514.2,236L513.1,237.3L511.1,237.6L510.9,241L506.2,242.3L502.6,242.3L498.7,241.1L498.7,241.1L501.3,244.2L503.7,245.4L504.1,248L505.3,248.4L505.3,249.7L502.3,250.8L502.1,253.4L505.7,256.6L515.1,259.2Z" fill="#d7301f" stroke="#62564c" stroke-width="0.45" stroke-linejoin="round"/>
<path d="M543.8,240.2L546.6,240.5L549.2,242.1L551.6,243.8L555.5,245.5L558.2,246.2L560.9,246.4L560.9,246.4L561.6,250.3L559.4,250.3L555.1,249.3L553.6,248.1L550.3,247.7L545.1,245.1L542.4,243.9L542.3,243.4L543.8,240.2Z" fill="#fc8d59" stroke="#62564c" stroke-width="0.45" stroke-linejoin="round"/>
<path d="M563,247.9L564.3,245.5L567.4,246.2L568.9,246.6L568.9,246.6L570.4,249.1L566.6,249.1L563.5,249.3L563,247.9Z" fill="#fee8c8" stroke="#62564c" stroke-width="0.45" stroke-linejoin="round"/>
<path d="M565.9,262.8L565,259.7L564,257.5L562.5,255.3L562,251.8L562.4,250.3L564.7,251.3L565.7,251.3L566.1,253.2L572,253.8L571.4,255.5L570,256.3L570,257.9L571.3,259.2L571.4,257.6L572.7,259.2L573.8,261.9L573.8,261.9L573.3,263.4L573.5,265.1L571.8,265.8L565.9,264.5Z" fill="#ef6548" stroke="#62564c" stroke-width="0.45" stroke-linejoin="round"/>
<path d="M573.5,265.1L573.3,263.4L573.8,261.9L573.8,261.9L574.8,261.3L575,259.2L574.7,256.4L577.7,256.6L577,253.5L577.8,251.3L579.5,248L581.3,248.1L581.5,245.5L581.5,245.5L583.7,246.8L585,247.4L585.8,251.3L584,253.7L584.3,256.6L586.8,256.4L587.6,258.7L589.1,259.3L588.8,261.5L591.1,263.3L593.5,263L593.5,263L592.3,265L591.5,266.2L591.5,266.2L589.2,267.7L587,267.8L586.9,270.8L586,271.1L587.3,273.5L590.3,276.6L589.7,277.4L589.1,280L591.8,283.5L591.7,284.8L593.2,288.7L592.4,289.5L591.6,291.6L591.2,293.5L588.9,296.1L577.1,280.3L571.8,265.8Z" fill="#fc8d59" stroke="#62564c" stroke-width="0.45" stroke-linejoin="round"/>
<path d="M591.2,293.5L591.6,291.6L592.4,289.5L593.2,288.7L591.7,284.8L591.8,283.5L589.1,280L589.7,277.4L590.3,276.6L587.3,273.5L586,271.1L586.9,270.8L587,267.8L589.2,267.7L591.5,266.2L591.5,266.2L592.6,266.7L592.6,268.4L594.5,268.4L594.8,273.5L597,271.9L598.5,272.8L599.9,271.3L603.3,274L603.7,276.4L606,278.7L606.1,281.6L605.5,282.2L605.5,282.2L602.7,282L600.4,282.3L599.5,284L599.1,284.1L600.9,289.1L599.2,293.5L602,301.4L600,303.4L600,303.4L599.4,304.6L597.8,304.8L595.8,302.2L595.5,302.8L592.8,304L588.9,296.1Z" fill="#fc8d59" stroke="#62564c" stroke-width="0.45" stroke-linejoin="round"/>
<path d="M593.5,263L592.3,265L591.5,266.2L591.5,266.2L592.6,266.7L592.6,268.4L594.5,268.4L594.8,273.5L597,271.9L598.5,272.8L599.9,271.3L603.3,274L603.7,276.4L606,278.7L606.1,281.6L605.5,282.2L605.5,282.2L607.4,283.1L608.4,281.4L610.8,281.1L610.8,281.1L609.8,277.9L607.6,275L605.7,273.2L603.7,270.6L600.8,268.2L601.5,265.5L598.5,265L596.7,262.6L595.4,260.7L595.4,260.7L594.6,260.8L595,264.1L593.5,263Z" fill="#fdbb84" stroke="#62564c" stroke-width="0.45" stroke-linejoin="round"/>
<path d="M595.4,260.7L597.3,260.3L599.5,259.9L602.2,258.3L605.6,259.6L605.7,261.9L607.9,262.8L609.1,263.2L614.8,269.8L618.7,290.9L606.6,300.1L604.8,292.4L604.8,292.4L606.2,291L608.2,290.9L607.6,289.3L611.4,287.3L611.1,284.3L610.8,281.1L610.8,281.1L609.8,277.9L607.6,275L605.7,273.2L603.7,270.6L600.8,268.2L601.5,265.5L598.5,265L596.7,262.6L595.4,260.7Z" fill="#fdbb84" stroke="#62564c" stroke-width="0.45" stroke-linejoin="round"/>
<path d="M605.5,282.2L602.7,282L600.4,282.3L599.5,284L599.1,284.1L600.9,289.1L601.6,294.8L604.8,292.4L604.8,292.4L606.2,291L608.2,290.9L607.6,289.3L611.4,287.3L611.1,284.3L610.8,281.1L610.8,281.1L608.4,281.4L607.4,283.1L605.5,282.2Z" fill="#fdbb84" stroke="#62564c" stroke-width="0.45" stroke-linejoin="round"/>
<path d="M595.5,302.8L595.8,302.2L597.8,304.8L599.4,304.6L600,303.4L604.5,304L607.2,317.2L603.8,317.7L594.2,309.3L593.9,302.7Z" fill="#fdbb84" stroke="#62564c" stroke-width="0.45" stroke-linejoin="round"/>
<path d="M498.7,241.1L502.6,242.3L506.2,242.3L510.9,241L511.1,237.6L513.1,237.3L514.2,236L516.5,235.5L517.2,232.6L516.9,230.2L519.1,229.2L519.5,226.3L519.3,223.9L522.3,222.6L524.9,222.2L524.9,222.2L525.5,221.7L525.5,221.7L523,221.3L520.9,222.3L518.7,223.1L517.6,220L516.9,218.9L515.1,219.4L515,220.7L513.5,220.7L512.4,221.5L510.1,221.8L510.1,221.8L507.2,221.4L507.2,221.4L505.2,221.5L503.6,222.1L503.4,224.2L500.6,225.3L499.2,226.8L496.7,226L496.7,226L496.3,226.8L495.9,230L497.1,231.4L496.6,232.6L498,236.8L499.9,237.1L500.4,238.5L498.7,241.1Z" fill="#fdbb84" stroke="#62564c" stroke-width="0.45" stroke-linejoin="round"/>
<path d="M510.1,221.8L510.5,219.2L508,216.5L510.1,215.5L510.8,213.9L513,212.1L514.2,213.9L511.5,214.2L511.7,215.8L514.2,215.5L517.6,216.1L521.1,215.9L522.4,218.4L524.5,218.6L525.9,221.3L525.5,221.7L523,221.3L520.9,222.3L518.7,223.1L517.6,220L516.9,218.9L515.1,219.4L515,220.7L513.5,220.7L512.4,221.5Z" fill="#fdd49e" stroke="#62564c" stroke-width="0.45" stroke-linejoin="round"/>
<path d="M532.9,209.1L529.7,210.3L527,211.8L525.4,213.4L522.8,213.3L521.1,214.7L521.1,215.9L517.6,216.1L514.2,215.5L511.7,215.8L511.5,214.2L514.2,213.9L516.4,214.1L518.9,212.3L516.2,211.3L514.5,211.3L512.1,210.5L513.1,208.4L518.3,208L517.9,206.3L519.3,206.1L522.8,206.9L529.9,207.1Z" fill="#fee8c8" stroke="#62564c" stroke-width="0.45" stroke-linejoin="round"/>
<path d="M513.1,208.4L512.1,209.2L509.8,210.8L508,211.8L504.9,211.4L502.8,209.2L502.2,206.6L499.1,204.8L490.6,203L484.4,199.9L479.4,201.4L481.9,211L481.9,211L484.3,211L486.5,207.1L489.9,208.7L490.6,210.8L494.7,211.6L496.5,214.4L501.1,217.3L503.6,218.6L506.7,219.8L507.2,221.4L507.2,221.4L510.1,221.8L510.5,219.2L508,216.5L510.1,215.5L510.8,213.9L513,212.1L514.2,213.9L516.4,214.1L518.9,212.3L516.2,211.3L514.5,211.3L512.1,210.5L513.1,208.4Z" fill="#fee8c8" stroke="#62564c" stroke-width="0.45" stroke-linejoin="round"/>
<path d="M474.2,209.7L477,209L478.7,209.1L480.8,211L481.9,211L481.9,211L484.3,211L486.5,207.1L489.9,208.7L490.6,210.8L494.7,211.6L496.5,214.4L501.1,217.3L503.6,218.6L506.7,219.8L507.2,221.4L507.2,221.4L505.2,221.5L503.6,222.1L503.4,224.2L500.6,225.3L499.2,226.8L496.7,226L496.7,226L495.9,223.6L494.3,223.5L491.2,221.3L486.7,219.7L482.9,219.8L481.6,221.3L479.8,221.8L475.2,219.7L472.5,211.8Z" fill="#fdd49e" stroke="#62564c" stroke-width="0.45" stroke-linejoin="round"/>
<path d="M479.8,221.8L481.6,221.3L482.9,219.8L486.7,219.7L491.2,221.3L494.3,223.5L495.9,223.6L496.7,226L496.7,226L496.3,226.8L495.9,230L497.1,231.4L496.6,232.6L498,236.8L499.9,237.1L500.4,238.5L498.7,241.1L498.7,241.1L501.3,244.2L503.7,245.4L504.1,248L505.3,248.4L505.3,249.7L502.3,250.8L502.1,253.4L498.8,256.6L487.1,252.6L475,246L471.1,240.9L471.1,240.9L469.7,239.4L468.8,238.1L468.8,236L464.3,232.6L462.6,230.2L463.5,225.7L461.8,224.9L460,221.9L460,221.9L458.6,220L458.6,218.9L457.2,216L458.1,216L458.8,215.2L460.4,215.8L462,217.3L462.9,217.5L465.8,215.5L466.2,217.6L468.3,218.6L471.6,223.6L478.4,224.9Z" fill="#fdd49e" stroke="#62564c" stroke-width="0.45" stroke-linejoin="round"/>
<path d="M458.8,215.2L458.1,216L457.2,216L458.6,218.9L458.6,220L460,221.9L460,221.9L456,221.4L454.7,222.1L454.7,222.1L451.1,222.1L446.9,223.1L443.2,223.2L442.7,224.3L441.6,225.5L441,225.1L439.2,226.3L421.6,226.3L417.5,217.1L418.2,212.5L419.2,211L418.5,210L421.9,209.2L426,207.9L438.5,206.6L451,210.5L453.2,210.3L455.4,211.6L456.1,214.1Z" fill="#fdd49e" stroke="#62564c" stroke-width="0.45" stroke-linejoin="round"/>
<path d="M460,221.9L461.8,224.9L463.5,225.7L462.6,230.2L464.3,232.6L468.8,236L468.8,238.1L469.7,239.4L471.1,240.9L470.6,241.6L469.9,240.9L469.9,240.9L469.2,240.5L468.5,240.8L466.9,243.1L466.9,243.1L466.6,243.1L462.7,242.9L456.1,237.9L452.3,235.8L449.5,235.1L449.5,235.1L448.2,231.9L448.2,231.9L452.8,229.2L453,226L452.4,223.9L454.7,222.1L454.7,222.1L456,221.4L460,221.9Z" fill="#fdd49e" stroke="#62564c" stroke-width="0.45" stroke-linejoin="round"/>
<path d="M449.5,235.1L452.3,235.8L456.1,237.9L462.7,242.9L466.6,243.1L466.9,243.1L466.9,243.1L469,243.4L469.7,244.7L471.2,244.6L477.6,248.7L477.7,254.6L478.9,255.1L479.7,255.9L479.7,255.9L482.3,259.3L488.2,260L488.2,260L489.5,261.9L488.4,267.1L481.7,269.8L481.7,269.8L475.1,270.8L473.1,272L470.6,275.2L469.2,274.4L464.8,274L462.2,273.7L461.9,275.8L461,276.6L456.9,277.7L436.7,246L440.8,242.5L440.8,242.5L443.4,242.9L444.7,241.2L446.4,240.8L447.3,239.4L444.8,236.8L449.5,235.1Z" fill="#fee8c8" stroke="#62564c" stroke-width="0.45" stroke-linejoin="round"/>
<path d="M441,225.1L441.6,225.5L442.7,224.3L443.2,223.2L446.9,223.1L451.1,222.1L454.7,222.1L454.7,222.1L452.4,223.9L453,226L452.8,229.2L448.2,231.9L448.2,231.9L444.1,234.7L441.6,233.6L441.8,232.3L441.7,231.8L443.1,229.7L442.6,228.6L441.5,228.5L439.2,226.3L441,225.1Z" fill="#fee8c8" stroke="#62564c" stroke-width="0.45" stroke-linejoin="round"/>
<path d="M441.6,233.6L444.1,234.7L448.2,231.9L448.2,231.9L449.5,235.1L449.5,235.1L444.8,236.8L447.3,239.4L446.4,240.8L444.7,241.2L443.4,242.9L440.8,242.5L440.7,242.1L441.4,237.9L441.5,236L441.3,234.4Z" fill="#fee8c8" stroke="#62564c" stroke-width="0.45" stroke-linejoin="round"/>
<path d="M438.7,237.3L440.7,242.1L441.4,237.9L441.5,236L441.3,234.4L441.6,233.6L441.8,232.3L441.2,232.1L440.1,232.6L437.7,232.9L437.8,237.6Z" fill="#fee8c8" stroke="#62564c" stroke-width="0.45" stroke-linejoin="round"/>
<path d="M440.1,232.6L441.2,232.1L441.7,231.8L443.1,229.7L442.6,228.6L441.5,228.5L439.4,228.4L439.5,232.6Z" fill="#fee8c8" stroke="#62564c" stroke-width="0.45" stroke-linejoin="round"/>
<path d="M466.9,243.1L468.5,240.8L469.2,240.5L469.9,240.9L472.3,242.1L471.2,244.6L471.2,244.6L469.7,244.7L469,243.4L466.9,243.1Z" fill="#fee8c8" stroke="#62564c" stroke-width="0.45" stroke-linejoin="round"/>
<path d="M477.7,254.6L478.9,255.1L480.4,253.9L479.1,250L476.7,251.3Z" fill="#fee8c8" stroke="#62564c" stroke-width="0.45" stroke-linejoin="round"/>
<path d="M488.2,260L482.3,259.3L479.7,255.9L480.4,253.9L486.7,250L489.4,251.2L489.7,252.2L490.1,252.4L491.3,253.9L490.3,254.2L490.3,254.2L489,254.2L489.7,256.3L489.3,256.6L488.2,260Z" fill="#fee8c8" stroke="#62564c" stroke-width="0.45" stroke-linejoin="round"/>
<path d="M488.2,260L489.5,261.9L488.4,267.1L481.7,269.8L481.7,269.8L484.7,276L486.9,277.7L501,267.1L500.1,257.9L491.7,253.9L490.3,254.2L490.3,254.2L489,254.2L489.7,256.3L489.3,256.6L488.2,260Z" fill="#fee8c8" stroke="#62564c" stroke-width="0.45" stroke-linejoin="round"/>
<path d="M489.4,251.2L489.7,252.2L490.1,252.4L491.4,251.3L490,249.2Z" fill="#fee8c8" stroke="#62564c" stroke-width="0.45" stroke-linejoin="round"/>
<path d="M461,276.6L461.9,275.8L462.2,273.7L464.8,274L469.2,274.4L470.6,275.2L473.1,272L475.1,270.8L481.7,269.8L481.7,269.8L484.7,276L482.6,282.9L466.7,288.7L460.8,286.9L459.2,277.7Z" fill="#fc8d59" stroke="#62564c" stroke-width="0.45" stroke-linejoin="round"/>
<path d="M446.8,205.6L450.3,206.1L453.3,206.3L456.7,207.4L459.5,207.9L461.1,209.5L460.9,210.3L462,211.6L458.5,211L455.4,211.6L453.2,210.3L451,210.5L448.6,209.7L445.8,206.1Z" fill="#fee8c8" stroke="#62564c" stroke-width="0.45" stroke-linejoin="round"/>
<path d="M455.4,211.6L458.5,211L458.6,211.8L460,212.3L461.2,213.9L462.6,215.8L462.9,217.5L462,217.3L460.4,215.8L458.8,215.2L456.1,214.1Z" fill="#fee8c8" stroke="#62564c" stroke-width="0.45" stroke-linejoin="round"/>
<path d="M462,211.6L460.9,210.3L461.1,209.5L463.4,211L464.7,211.3L465.8,209.6L471.4,211.8L473.1,219.7L468.3,218.6L466.2,217.6L465.8,215.5L462.9,217.5L462.6,215.8L461.2,213.9L460,212.3L458.6,211.8L458.5,211Z" fill="#fee8c8" stroke="#62564c" stroke-width="0.45" stroke-linejoin="round"/>
<path d="M458.8,215.2L460.4,215.8L462,217.3L460.5,217.1L458.9,215.5Z" fill="#fee8c8" stroke="#62564c" stroke-width="0.45" stroke-linejoin="round"/>
<path d="M414.2,141L413.1,141.3L411.5,142.6L411.5,142.6L410.1,141L409.1,140.3L406.1,141.2L405.9,142.3L404.8,143.6L401.5,143.4L398.9,142.1L397.2,142.6L397.2,142.6L396.5,144.1L393.3,143.8L393.1,145.1L390.8,146.8L389.3,148.8L387.8,149.3L388,151.1L386.8,152.8L387.6,153.7L385.1,154.2L384.2,155.8L384.4,159.6L386.1,160.4L385.1,161.3L385.8,162.7L384.4,164L384.4,166.1L383.3,166.1L382.3,168.5L370,168.5L367.9,158.9L383,145L398.4,136.2L415,137.2Z" fill="#fee8c8" stroke="#62564c" stroke-width="0.45" stroke-linejoin="round"/>
<path d="M404.8,150L403.9,149.1L404.1,147.7L403.1,146.8L403,145.2L399.7,143.8L397.2,142.6L397.2,142.6L396.5,144.1L393.3,143.8L393.1,145.1L390.8,146.8L389.3,148.8L387.8,149.3L388,151.1L386.8,152.8L387.6,153.7L385.1,154.2L384.2,155.8L384.4,159.6L386.1,160.4L385.1,161.3L385.8,162.7L384.4,164L384.4,166.1L383.3,166.1L383.5,171L386.7,175.9L391.6,175.9L399.4,168.5L398.4,161.3L404.8,150Z" fill="#fee8c8" stroke="#62564c" stroke-width="0.45" stroke-linejoin="round"/>
<path d="M411.5,142.6L410.1,141L409.1,140.3L406.1,141.2L405.9,142.3L404.8,143.6L401.5,143.4L398.9,142.1L397.2,142.6L397.2,142.6L399.7,143.8L403,145.2L403.1,146.8L404.1,147.7L403.9,149.1L404.8,150L401.6,153L399.8,158.9L401.7,164.9L413.9,162.4L413.9,162.4L417,160.6L419.4,156.7L416.2,154.7L416.9,153.7L414.9,152.1L415.3,150.2L412.9,147.5L413.9,145.7L411,143.8L411.5,142.6Z" fill="#fee8c8" stroke="#62564c" stroke-width="0.45" stroke-linejoin="round"/>
<path d="M414.8,165L414,166.3L414.6,168.8L414.5,169.6L414.5,169.6L412.9,169.8L410.4,168.5L408.6,168.9L406.1,168.8L404.5,164.9L414.8,165Z" fill="#fee8c8" stroke="#62564c" stroke-width="0.45" stroke-linejoin="round"/>
<path d="M408.6,168.9L410.4,168.5L412.9,169.8L414.5,169.6L414.5,169.6L415.5,170.3L416.7,173.1L416.7,173.1L413.9,174.3L413.9,174.3L410.6,173L408.6,172.7L404.7,172.5L403,173.3L402,173.5L401.4,169L406,168.5Z" fill="#fee8c8" stroke="#62564c" stroke-width="0.45" stroke-linejoin="round"/>
<path d="M403,173.3L404.7,172.5L408.6,172.7L410.6,173L413.9,174.3L413.9,174.3L413,176.1L412.4,177.9L410.3,178.7L408.6,178.6L408.6,178.6L407,177.5L407,177.5L406.4,175.8L404,175.3L403.4,175.2L402.2,174.7L402,173.3Z" fill="#fee8c8" stroke="#62564c" stroke-width="0.45" stroke-linejoin="round"/>
<path d="M403.4,175.2L404,175.3L406.4,175.8L407,177.5L407,177.5L400.8,177.3L400.3,175.4L403.1,174.5Z" fill="#fdd49e" stroke="#62564c" stroke-width="0.45" stroke-linejoin="round"/>
<path d="M416.7,173.1L413.9,174.3L416.7,173.1L419.3,174.1L422.3,174.5L422.5,176.4L426.9,179.8L424.4,180.4L425.8,183.2L425.8,183.2L423.8,185.2L420.8,184.5L416.8,184.1L412.9,183.7L409.6,184.7L409.6,184.7L408.6,182.7L409.8,181.7L408.6,178.6L408.6,178.6L410.3,178.7L412.4,177.9L413,176.1L413.9,174.3Z" fill="#fee8c8" stroke="#62564c" stroke-width="0.45" stroke-linejoin="round"/>
<path d="M425.8,183.2L429.6,182.6L431.1,184L434.2,187.5L438.1,187.8L439.4,188.8L443.8,189.6L443.9,194.1L441.2,196L441.4,199.3L439.1,200.1L439.8,204L429.7,204L424.3,200.8L424.3,200.8L421.2,200.2L421.2,200.2L424.6,197.8L424.2,196.8L422.1,193.8L419.3,192.5L416.9,193L416.9,193L413.6,194.4L409.4,193.7L409.4,193.7L407.7,192.6L407.7,192.6L408.3,190.8L408.3,190.8L408.3,189.8L411,187L409.6,184.7L409.6,184.7L412.9,183.7L416.8,184.1L420.8,184.5L423.8,185.2L425.8,183.2Z" fill="#fee8c8" stroke="#62564c" stroke-width="0.45" stroke-linejoin="round"/>
<path d="M416.9,193L419.3,192.5L422.1,193.8L424.2,196.8L424.6,197.8L421.2,200.2L421.2,200.2L420.4,196.5L416.9,193Z" fill="#fee8c8" stroke="#62564c" stroke-width="0.45" stroke-linejoin="round"/>
<path d="M400.8,177.3L407,177.5L407,177.5L408.6,178.6L408.6,178.6L409.8,181.7L408.6,182.7L409.6,184.7L409.6,184.7L411,187L408.3,189.8L408.3,190.8L408.3,190.8L403.9,190.1L402.7,190.6L400.7,189.8L400.7,189.8L398.1,187.8L396.5,187.5L395.2,186.9L392.2,186.4L392.2,186.4L392.5,186L391.9,184.4L391.5,182.1L390.4,181.3L390.8,180.3L390.4,178.7L390.1,175.9L400.7,175.9Z" fill="#fdbb84" stroke="#62564c" stroke-width="0.45" stroke-linejoin="round"/>
<path d="M416.9,193L413.6,194.4L409.4,193.7L416.9,193L420.4,196.5L421.2,200.2L421.2,200.2L424.3,200.8L425.3,202.7L422.6,204.7L422.6,204.7L419.1,203.7L415.9,204.9L410.6,204.4L410.1,203.5L410.1,203.5L409.3,202.2L407.2,201.9L404.5,198.4L404.5,198.4L406.3,197.8L407.6,194.7L409.4,193.7Z" fill="#fee8c8" stroke="#62564c" stroke-width="0.45" stroke-linejoin="round"/>
<path d="M410.1,203.5L410.6,204.4L415.9,204.9L419.1,203.7L422.6,204.7L423.7,206.6L421.9,209.2L421.9,209.2L418.5,210L418.5,210L418.1,210.9L416.2,211.2L413.8,210.4L411.5,210.9L411.5,210.9L410,208.4L410,208.4L411,206.1L409.7,204L410.1,203.5Z" fill="#fee8c8" stroke="#62564c" stroke-width="0.45" stroke-linejoin="round"/>
<path d="M411.5,210.9L413.8,210.4L416.2,211.2L418.1,210.9L418.5,210L418.5,210L419.2,211L418.2,212.5L416.3,215.8L416,224.9L408.4,224.9L404.4,215.8L405.4,215.2L405.4,215.2L406.7,214.2L407.3,212.2L407.3,212.2L409.4,211.4L411.5,210.9Z" fill="#fee8c8" stroke="#62564c" stroke-width="0.45" stroke-linejoin="round"/>
<path d="M397.6,193.7L397.5,194.4L396.4,195L395.7,196.6L395.7,196.6L396.7,197.5L396.7,197.5L398.8,199L401.6,199.1L401.6,199.1L404.5,198.4L404.5,198.4L406.3,197.8L407.6,194.7L409.4,193.7L409.4,193.7L407.7,192.6L407.7,192.6L407,192.8L403.2,193.3L401,194.2L397.6,193.7Z" fill="#fdd49e" stroke="#62564c" stroke-width="0.45" stroke-linejoin="round"/>
<path d="M397,192.1L397.6,193.7L397.6,193.7L401,194.2L403.2,193.3L407,192.8L407.7,192.6L407.7,192.6L408.3,190.8L408.3,190.8L403.9,190.1L402.7,190.6L400.7,189.8L400.7,189.8L399.3,191L397.5,191.5L397,192.1Z" fill="#fdd49e" stroke="#62564c" stroke-width="0.45" stroke-linejoin="round"/>
<path d="M392.2,186.4L391.1,186L388.5,187.5L386.8,187.8L387.7,188.8L390.6,191.7L390.6,191.7L392.4,192.1L393,191.1L397,192.1L397,192.1L397.5,191.5L399.3,191L400.7,189.8L400.7,189.8L398.1,187.8L396.5,187.5L395.2,186.9L392.2,186.4Z" fill="#fee8c8" stroke="#62564c" stroke-width="0.45" stroke-linejoin="round"/>
<path d="M390.6,191.7L389,193L389.2,195L387.5,194.7L384,195L382.1,195L382.1,195L382.2,196.1L384,196.6L384,196.6L387.6,196.2L388,197L390.8,197.5L390.8,197.5L392.7,197.8L394.8,197L395.7,196.6L395.7,196.6L396.4,195L397.5,194.4L397.6,193.7L397.6,193.7L397,192.1L397,192.1L393,191.1L392.4,192.1L390.6,191.7Z" fill="#fee8c8" stroke="#62564c" stroke-width="0.45" stroke-linejoin="round"/>
<path d="M378,194.7L376.8,195.1L375,197.4L375.1,198.3L376.5,197.8L377.1,199.1L377.1,199.1L378.8,199L379.8,197.8L381.1,199.2L381.7,197.8L383.3,198.2L384,196.6L384,196.6L382.2,196.1L382.1,195L382.1,195L380.1,194.3L378,194.7Z" fill="#fee8c8" stroke="#62564c" stroke-width="0.45" stroke-linejoin="round"/>
<path d="M379.2,176.2L380.8,176.4L383.9,176.4L390.3,177.7L390.4,178.7L390.4,178.7L390.8,180.3L390.4,181.3L391.5,182.1L391.9,184.4L392.5,186L392.2,186.4L392.2,186.4L391.1,186L388.5,187.5L386.8,187.8L387.7,188.8L390.6,191.7L390.6,191.7L389,193L389.2,195L387.5,194.7L384,195L382.1,195L382.1,195L380.1,194.3L378,194.7L378,194.7L378,193.4L379.1,191.2L376,190.6L375.3,189.9L375.6,189.1L374.8,188.2L374.8,188.2L375.1,187.8L374.5,186.6L374.5,186.6L374.6,184.5L376,183.6L376.4,182.8L376.6,180.3L376.1,177.9L378.6,175.9Z" fill="#fdbb84" stroke="#62564c" stroke-width="0.45" stroke-linejoin="round"/>
<path d="M380.8,176.4L379.2,176.2L377.6,176.2L377.3,169.8L382.9,168.5L383.6,173.5L381.9,176.4Z" fill="#fee8c8" stroke="#62564c" stroke-width="0.45" stroke-linejoin="round"/>
<path d="M374.5,186.6L374.6,184.5L376,183.6L376.4,182.8L376.6,180.3L372.2,178.9L368.4,183.5L369.1,185.1L369.1,185.1L371,185.1L372.4,184.9L374.1,185.6L373.9,186.5L374.5,186.6Z" fill="#fdd49e" stroke="#62564c" stroke-width="0.45" stroke-linejoin="round"/>
<path d="M374.5,186.6L373.9,186.5L374.1,185.6L372.4,184.9L371,185.1L369.1,185.1L368,184.7L367.5,185.8L367.5,185.8L368.6,186.6L370.9,188.7L372.2,188.3L374.2,189.7L374,188.8L374.8,188.2L374.8,188.2L375.1,187.8L374.5,186.6Z" fill="#fdd49e" stroke="#62564c" stroke-width="0.45" stroke-linejoin="round"/>
<path d="M375.3,189.9L375.6,189.1L374.8,188.2L374,188.8L374.2,189.7Z" fill="#fee8c8" stroke="#62564c" stroke-width="0.45" stroke-linejoin="round"/>
<path d="M369.1,208L366.2,208L365.4,207.6L363.9,207.1L359.4,206.5L358.6,205.7L369.8,208.4L373,207.9L378.2,205.8L378.2,204.5L378.2,204.5L378.6,203.6L376.9,203.1L377,201.2L376.5,199.3L377.1,199.1L377.1,199.1L376.5,197.8L375.1,198.3L375,197.4L376.8,195.1L378,194.7L378,194.7L378,193.4L379.1,191.2L376,190.6L375.3,189.9L374.2,189.7L374.2,189.7L372.2,188.3L370.9,188.7L368.6,186.6L367.5,185.8L366.4,184.7L358.4,187.8L351.2,192.4L357.2,198.8L358.2,205.3Z" fill="#fdbb84" stroke="#62564c" stroke-width="0.45" stroke-linejoin="round"/>
<path d="M343.6,209.5L345,209.5L348.4,209.3L349.2,210.3L347.6,211.8L347.5,213.9L347.3,215.2L346.2,215.5L347.2,219.2L346.3,221.8L346.7,223.6L350.1,225.7L358,224.2L364.6,217.9L370.5,209.2L369.1,208L369.1,208L366.2,208L365.4,207.6L363.9,207.1L359.4,206.5L358.6,205.7L358.2,204L342.5,203.5L342.2,209.5Z" fill="#fdd49e" stroke="#62564c" stroke-width="0.45" stroke-linejoin="round"/>
<path d="M343.6,209.5L345,209.5L348.4,209.3L349.2,210.3L347.6,211.8L347.5,213.9L347.3,215.2L346.2,215.5L347.2,219.2L346.3,221.8L346,223.4L340.6,223.4L341.1,209.2Z" fill="#fee8c8" stroke="#62564c" stroke-width="0.45" stroke-linejoin="round"/>
<path d="M377.1,199.1L376.5,199.3L377,201.2L376.9,203.1L378.6,203.6L378.2,204.5L379.3,205.8L388.1,212.3L396.1,221L403.3,215L402,211.8L389.6,201.4L391,199.7L391,199.7L390.2,198.3L390.8,197.5L390.8,197.5L388,197L387.6,196.2L384,196.6L384,196.6L383.3,198.2L381.7,197.8L381.1,199.2L379.8,197.8L378.8,199L377.1,199.1Z" fill="#fdbb84" stroke="#62564c" stroke-width="0.45" stroke-linejoin="round"/>
<path d="M390.8,197.5L392.7,197.8L394.8,197L395.7,196.6L395.7,196.6L396.7,197.5L396.7,197.5L395,198.3L394.3,200.1L392.8,199.7L390.7,200.1L390.5,200L391,199.7L391,199.7L390.2,198.3L390.8,197.5Z" fill="#fee8c8" stroke="#62564c" stroke-width="0.45" stroke-linejoin="round"/>
<path d="M390.7,200.1L392.8,199.7L394.3,200.1L395,198.3L396.7,197.5L396.7,197.5L398.8,199L401.6,199.1L402,200.4L402.1,201.7L400.4,201.2L397.9,200.9L396.5,201.4L395.4,201.9L395.7,203L396.9,204L398.9,205.8L399.7,206.9L401.5,207.8L401.6,208L398.5,208.4L390.2,201.9L390.5,200Z" fill="#fee8c8" stroke="#62564c" stroke-width="0.45" stroke-linejoin="round"/>
<path d="M395.4,201.9L396.5,201.4L397.9,200.9L400.4,201.2L402.1,201.7L402.9,201.7L402.6,203L403.6,203.9L402.9,205.3L401.9,206L401.5,207.8L399.7,206.9L398.9,205.8L396.9,204L395.7,203Z" fill="#fee8c8" stroke="#62564c" stroke-width="0.45" stroke-linejoin="round"/>
<path d="M401.6,199.1L404.5,198.4L404.5,198.4L407.2,201.9L409.3,202.2L410.1,203.5L410.1,203.5L409.7,204L411,206.1L410,208.4L408.2,208.6L408.5,207.4L407,206.3L405.9,206.1L405.4,207L403.8,206.1L402.9,205.3L403.6,203.9L402.6,203L402.9,201.7L402.1,201.7L402,200.4Z" fill="#fee8c8" stroke="#62564c" stroke-width="0.45" stroke-linejoin="round"/>
<path d="M405.4,207L405.9,206.1L407,206.3L408.5,207.4L408.2,208.6L406.5,209.1L406.2,209.6L404.9,207.8Z" fill="url(#hatch)" stroke="#62564c" stroke-width="0.45" stroke-linejoin="round"/>
<path d="M401.5,207.8L401.9,206L402.9,205.3L403.8,206.1L405.4,207L404.9,207.8L404.2,207.6L403.6,209.6L402.9,210.3L401.3,208.4Z" fill="#fee8c8" stroke="#62564c" stroke-width="0.45" stroke-linejoin="round"/>
<path d="M403.6,209.6L404.2,207.6L404.9,207.8L406.2,209.6L406.2,211L407.3,212.2L407.3,212.2L406.7,214.2L405.4,215.2L403.3,215L402.9,210.3Z" fill="#fee8c8" stroke="#62564c" stroke-width="0.45" stroke-linejoin="round"/>
<path d="M406.2,209.6L406.5,209.1L408.2,208.6L410,208.4L411.5,210.9L409.4,211.4L407.3,212.2L406.2,211Z" fill="#fee8c8" stroke="#62564c" stroke-width="0.45" stroke-linejoin="round"/>
</g>
<path d="M438.7,237.3L439.2,236.5L439.6,235.2L440,233.4L440.1,232.6L440.8,230.5L441.3,229.2L441.5,228.5L440.8,226.3L441,225.1L441.4,223.4L439.9,223.4L437.9,222.8L436.1,224.6L433.7,224.7L432.3,223.5L429.4,222.7L429.1,224.2L425.9,223.1L423.9,222.8L422.1,222.3L421.5,220L419.4,218.9L420.7,218.5L420.2,216.3L418.6,215.8L418.7,214.4L419.7,213.4L421.4,213.7L424.6,213.4L426.4,212.5L424.6,211.7L424.8,211.3L427.1,211.4L429.4,211L431.2,209.9L433.2,209.2L437.1,209.1L439.9,211L442.6,211.7L444.5,212L447.3,211.8L451,210.5L451,209L450.4,207.6L447.6,206.3L446.8,205.6L444.1,203.5L441.5,202.2L439,200.9L440.7,199.9L441.9,198.3L441.4,196.8L443.5,196L441.2,196L440,196.1L438.5,197L435.6,198L435.2,199.6L438.5,200.4L436.4,201.4L434.7,202.4L433.1,203L432.4,201.4L430.2,200.4L432.2,198.8L428.8,198L428.4,197L426.1,197.5L425.2,199.2L424.3,200.8L422.9,202.2L422.6,204L422.6,204.7L421.4,206.1L420.7,207.9L421.9,209.2L422.5,210.5L424.2,211L424.2,211.8L421.2,212L418.7,214.3L418.1,212.9L418.2,212.5L416.1,212L414.6,212L413.2,212.6L414.6,213.9L412.7,214.6L411.5,213.4L411.5,212.9L411,214.4L412.5,216.5L411.7,217.3L413.5,218.4L414.7,220.6L413.4,219.7L412.3,219.8L412.9,221.3L412.9,223.8L411.6,223.8L409.7,222.8L408.2,220.2L408.6,219.2L411.2,219.2L408.1,218.8L407.1,217.2L405.9,215.5L405.4,215.2L404,213.7L403.9,211L403.6,209.6L401.6,208L400.8,207.5L397,205.3L394.3,203.5L393.5,201.4L392.2,200.6L391.5,201.9L390.7,200.1L391,199.7L389.7,199.6L388.1,200.6L388.5,201.7L388.4,203.5L390.8,205L392.1,207.4L394.3,209.2L396.9,209.5L396.3,210.5L398.7,211.6L401,212.7L402.1,214.2L401.9,215L400.8,213.7L399.3,213.3L398.1,214.2L397.9,215.2L399.4,217.1L398.1,217.9L397.3,219.8L396.4,219.7L396.6,218.1L397.4,217.1L396.4,215L395.9,214.3L394.4,213.8L393.5,212.7L392.9,212.3L390.2,211.2L388.4,209.9L386,208.2L384.6,206.6L384.1,205.2L383.1,203.9L381.1,203L379.2,204.3L378.2,204.5L377,205.4L375,206.3L373.7,205.8L372.5,205.6L370.8,205.2L369,206.3L369.1,208L369.2,209.5L367,211L364.1,212.5L362.4,214.6L361.8,215.9L362.8,217.7L361.3,218.9L360.8,220.7L358.9,221.4L357.7,223L354.8,223.1L352.8,223.1L350.7,224.6L350.1,224.9L348.6,223.5L348.3,222.6L346.3,221.8L345,222.3L342.9,222.3L343.3,218.6L341.9,217.7L342.8,215.5L343.4,213.9L343.8,211.4L343.6,209.5L342.7,206.9L344.7,205.6L346.2,204.7L350.2,204.9L354.4,205.4L358.6,205.7L359.2,205.2L359.9,202.3L360.1,199.9L359.9,198.3L358.3,196.8L357.9,195.6L356.6,195L353.6,194.2L352.7,192.8L355.1,191.6L358.3,192L359.1,192L358.6,189.3L359.8,189.3L360.2,190.2L362.6,189.8L364.6,188.7L365.6,186.8L366.1,186.1L367.5,185.8L369.1,185.1L370.4,183.6L371.5,182.3L371.8,181.1L373.1,180.4L376,179.9L376.6,180.3L378.1,179.2L379.1,179.6L379.9,178.7L379.6,177.7L379.2,176.2L378.1,174.6L378.1,172L378.8,170.7L381.3,169.5L382.6,169.1L382.5,170.5L382.2,172L383.4,172.3L382.1,173.1L381.4,174.9L380.8,176.4L382,177.3L384.1,177.6L383.7,178.6L386.1,178.1L388.6,176.8L390.4,178.7L394.1,177.7L398.1,176.4L398.9,177.4L400.8,177.3L401.3,176.1L403.4,175.2L403,173.3L402.7,171.5L403.5,170L405.4,169.1L406.8,170.9L408.5,170.9L408.6,168.9L408.7,167.7L406.7,167.1L406.4,165.6L408.7,165L411,164.6L414.8,165L416.3,164.2L418.7,163.9L416.3,163.2L415.5,162.7L413.9,162.4L410.6,162.7L408.9,163.3L405.3,164L403.6,162.7L401.7,161.3L401.6,159.8L401.1,157.7L401.4,156.3L403.3,154.6L405.9,152.5L407.4,151.8L407,150.7L404.8,150L401.5,150.4L400.3,152.8L398.8,154.6L395.9,156.7L394.2,158.9L394.2,162L397,163.2L397.8,164.2L396.3,165.4L394.5,166.9L394.1,168.5L393.8,171L393.9,171.9L392.5,173.1L390.1,174.6L390,174.9L387.6,174.9L387.3,174.2L386.7,173L387.2,171.9L385.1,169.3L383.5,166.3L383.3,166.1L382.2,163.9L381.6,166.1L379.4,167.6L375.9,168.5L373.1,166.3L371.9,163.7L371.6,161L371.8,158.4L374.2,157L376.3,156.3L379.6,154.9L382,152.8L383.9,150.4L385,148.2L387.3,146.6L389,145L392.1,143.8L392.9,142.3L394.4,141.2L397.6,140.5L401.8,139L405.1,138.1L408.8,138.3L412.2,139L414.3,139.9L412.9,141.2L414.2,141L416.2,141L418.3,141.8L423.4,142.5L428.2,144.3L430.6,144.7L434.2,147.7L433.2,148.8L429.8,149.3L424.4,148.6L420.7,147.9L418.5,147L420.9,148.8L423.7,150.7L424.4,153L427.8,154.4L430.4,154.2L429.9,153.5L427.9,151.6L433,152.8L434.5,152.9L432.8,150.4L435.7,148.6L439.4,149.3L438.7,147.2L436.5,143.6L440.1,144.1L442.3,145.4L443,147.2L445.9,145.7L451.1,143.8L453.2,143L455.6,144.3L460.2,143.4L463.1,144.1L465.1,143L464,141L471.4,142.1L476.3,143.2L475.2,141.4L473.1,138.8L474.4,136.2L473.6,134L474.9,133.4L480,134.5L482.6,138.3L487,142.7L488.6,145L488.2,148.8L490.9,147.5L489.5,143.8L488.8,141.6L484.9,138.3L483.9,135.1L487.8,135.5L490.1,136.4L493.2,136.2L499,138.3L501,139.9L501.5,138.3L495.9,135.5L491.4,133L498.8,131.3L498.8,129.7L505.1,128.2L510.6,127.6L515.9,126.8L519.4,124.4L525.3,125.8L532.2,126.4L537.9,127.8L541.1,130.9L537.5,131.9L534.4,133.4L537.6,133.4L541.2,132.3L544.6,133.2L544.9,132.8L555.3,134L559.8,132.6L564.9,132.8L570.9,134.2L576,137.7L578.7,138.6L581.2,137.2L585,137L588.1,137.5L589,135.1L589.8,134.2L592.5,134.7L598.2,135.3L606.2,135.7L610,137.2L616,138.6L620.3,138.1L630.5,140.5L634.3,141.4L638.2,141.2L643.8,141L647.9,140.3L650.7,142.7L652.7,140.7L658.4,141.2L663.7,141.8L667.7,142.8L681.3,151.8L680.9,152.8L677.9,152.5L683.6,155.3L688.6,158.2L684.1,157.7L681.8,159.4L679.7,161.3L679.7,163.8L671.6,163L669,163.9L667.4,164.4L671.6,168.5L670.3,169L677.4,173.2L677.5,175.9L678.8,177.2L678.5,180.4L676.5,180.9L678.1,183.5L677.5,186.3L671.1,180.9L665.4,175.9L661,171.5L660.4,169L662.3,167.8L661.8,164.9L661.7,162.5L661,159.6L659.5,157.9L656.2,159.4L658.4,162L651.9,159.6L650.3,159.8L652.5,164.2L651.6,165.4L646,165.9L644.4,164.8L640.8,165.4L635.7,165.4L630.7,165.2L629.4,169L628.2,172.3L626.3,176.7L633.4,179.2L637.3,178.4L642,180.7L643.6,182.7L645.1,186.3L648.3,191.1L648.3,196.2L647.3,200.9L646.7,204.8L643.8,207.1L641.2,206.3L639.9,208.4L639.1,210.8L640.1,212.1L637.5,214.4L636.9,215L637.3,216.5L640.1,218.1L644.3,222.1L645.9,224.9L646.2,227.1L643.9,227.8L641.2,229.2L640.4,228.4L639.8,226L638.6,222.8L637.6,220.2L634.6,220.2L632.9,219.4L633.2,217.9L631.9,215.8L629.7,214.6L627.3,215.5L625.2,217.3L623.5,215.8L623.8,212.9L621.3,212.2L619.6,214.7L617,216.5L616.6,217.1L618.3,219.4L621,220.5L623.4,222.1L624.6,220.2L629,221.3L626.6,223.4L625.8,224.9L624.9,228.1L627.7,229.7L630.7,233.9L633.8,236.3L634.5,238.4L631.9,240L635.4,241L636,245.2L634.3,246.3L633.1,251.3L631.9,254.7L630.7,255.4L628.1,258.4L622.9,261.1L621.4,261.3L617.8,262.9L615,264L614.9,266.3L613.5,263.2L612.5,262.9L609.1,263.2L606.7,265L606.3,267.1L605.2,270.3L607.3,273.2L608.9,275L611.8,277.4L613.7,279.5L614.9,283.6L615.8,286.4L615.4,288.2L613.1,291.1L610.9,292.6L609.7,294.5L607.1,296.9L605.9,297.2L605.8,294L606.4,293.5L604.8,292.4L602.5,291.9L601.5,290.3L600.9,289.1L599.1,287.7L596.2,286.5L595.9,284.7L594.9,284.3L593.8,284.8L593.8,286.8L593.7,288.7L592.7,292.2L593.3,295.7L595.1,297.7L596.4,300.9L599.4,303L600,303.4L602.4,305.6L603.3,309.8L603.6,312.7L605.6,316.3L604.2,316.4L600.7,314.1L598.5,311.9L597,308.8L596.2,305.6L595.9,304L595.5,302.8L594.3,301.7L592.3,298.6L590.9,299L590.7,296.4L591.2,293.5L591,289.5L590.7,287.2L589.4,282.9L588.1,280.3L587.2,276.4L585.5,275L584.2,276.1L582.4,278.3L579.7,277.7L579.8,273.7L578.8,270.3L577,268.4L575.1,266.7L573.5,265.1L571.8,261.1L570.3,260.3L569.1,261.3L568.3,262.2L565.9,262.8L563.6,262.6L561.2,263.2L560.9,266.3L559,267.8L557.2,269.5L553.9,273.2L551.9,275.3L549.2,278.3L547.3,280L547.7,284L548.2,285.3L547.4,288.5L547.7,292.7L546.4,295.3L544,296.7L542.7,298.5L540.1,296.4L539.4,293.6L538.2,290.2L535.6,285.8L533.5,280.8L532.7,279L531.1,275L529.6,269.9L528.9,267.1L528.6,264.2L527.8,261.2L527.2,264L524.8,265.3L522.5,264.5L519.7,261.2L522.6,259.2L519.1,258.7L517.6,257.4L515.9,256.8L514.5,254.5L513.4,252.9L509.8,253.2L506.4,253.4L503.7,253.7L502.1,253.4L499.8,253.2L496.1,252.9L493.3,252.1L491.2,249.2L489.5,248.3L486.3,250L483.1,249.5L481,247.6L479.7,246.4L476.6,243.5L474.6,240.8L472,239.7L471.1,240.9L469.9,240.9L470.1,242.5L471.2,244.6L472.6,247.1L474.5,248.7L476,250.5L476,252.4L477.7,254.6L477.4,252.6L478.4,250.9L479.3,253.2L478.9,255.1L479.7,255.9L482,256.1L484.3,256.3L486,255.4L487.8,253.2L489.4,251.2L490,250.4L490.2,253.7L491.4,255.8L495.8,257.6L498.9,260.5L497.2,263.7L496.8,266.1L494.7,266.6L494.8,269.8L492.5,272.1L489.6,273.5L486.9,275L484.7,276L482.8,278.7L480.1,279.9L475.8,281.5L472.3,284L466.6,286.1L463.1,286.5L462.5,284.8L461.5,280.8L461,276.6L460.4,275.3L456.7,269.5L452,263.2L450.1,259.2L448.9,256.3L446.7,253.2L444.9,250.6L442.4,247.1L440.3,245.9L440.8,242.5L440.7,242.1Z" fill="none" stroke="#62564c" stroke-width="0.45" stroke-linejoin="round"/>
<path d="M462.1,198.8L464.4,197.8L466.8,196.8L468.1,196.2L470.4,196.2L472.2,197.5L473.4,200.6L469.5,200.9L469.3,202.7L468,203.2L469.4,204L471.2,206.1L473.8,207.4L474.2,209.7L475.3,211L475.6,212.1L475.7,214.4L478,216.3L477.2,217.6L479.8,221.8L479.7,222.6L475.9,223.4L473.7,223.1L471.2,221.3L468.9,220.7L468.3,218.6L468.6,216.5L468.5,213.9L470.5,213.5L468.4,212.6L465.8,209.6L462.8,206.6L462.4,204.5L460.6,203L460.3,200.1Z" fill="#fff" stroke="#62564c" stroke-width="0.45" stroke-linejoin="round"/>
<path d="M43.5,152.3L48.5,149.2L57.6,143.2L59.4,147.6L64.7,147.4L64.3,149.9L58.8,150.6L53.5,153.4L50.2,151.5L49,150.3Z" fill="#fdd49e" stroke="#62564c" stroke-width="0.45" stroke-linejoin="round"/>
<g clip-path="url(#c7)">
<rect x="-100" y="0" width="1000" height="600" fill="#fee8c8"/>
<path d="M348.3,175.8L348.2,174.7L352.7,174.5L352.6,178.7L350.1,178.2L349.4,178.3L348.7,178.2L347.5,178.1L346.5,177.3L347,176.7Z" fill="#fdbb84" stroke="#62564c" stroke-width="0.45" stroke-linejoin="round"/>
</g>
<path d="M348,175.1L349,175.4L350.4,175.4L351.7,177.4L350.1,178.2L350,178.4L350.4,180.2L350.5,181.7L349.8,183L347.4,183.5L345.8,184L342.8,184.9L341.7,183.2L343.1,182L344.6,180.6L342.3,179.9L342.6,178.4L345.8,177.7L345.4,176.8L346.3,175.6Z" fill="none" stroke="#62564c" stroke-width="0.45" stroke-linejoin="round"/>
<g clip-path="url(#c8)">
<rect x="-100" y="0" width="1000" height="600" fill="#d7301f"/>
<path d="M618,314.4L617.9,315.1L618.7,316.4L620.1,317.6L623.1,317.2L624,316L627.5,316.6L629.6,316L630.2,314.6L630.7,312.3L631.7,311.4L631.7,308.8L632.4,308.4L635.4,308.4L636.4,308.9L641.9,308L641.4,298.8L632.1,298.8L615.3,313.3Z" fill="#fdbb84" stroke="#62564c" stroke-width="0.45" stroke-linejoin="round"/>
<path d="M627.8,307.7L629.4,309.3L631,308.5L630.4,306.7L629,305.9Z" fill="#fee8c8" stroke="#62564c" stroke-width="0.45" stroke-linejoin="round"/>
</g>
<path d="M634.6,301.4L636.3,303.2L637.3,304.6L640.1,306.1L637.7,308.5L637,308.6L636.4,308.9L637.1,310.6L636.7,311.9L637.5,313.8L639.8,317.1L637.3,317.7L636.4,319.9L636.2,321.4L634.7,323.3L634,325.6L633.2,327.8L632.7,329.3L629.5,330.8L629.2,328.8L625.7,328.3L622.9,329.1L622.7,327.8L619.2,327.5L619.1,324.9L617,321.7L617.3,319.9L616.6,317.2L618,314.4L619.7,315.6L622.1,313.5L625.7,311.4L627.8,307.7L630.4,306.7L631.1,305.6L632.5,304L633.9,301.7Z" fill="none" stroke="#62564c" stroke-width="0.45" stroke-linejoin="round"/>
<g clip-path="url(#c9)">
<rect x="-100" y="0" width="1000" height="600" fill="#d7301f"/>
<path d="M691.2,322.5L690.5,336.5L690.1,337.8L690.4,338L689.7,346.2L714.7,350.2L716.8,322.5Z" fill="#fdbb84" stroke="#62564c" stroke-width="0.45" stroke-linejoin="round"/>
</g>
<path d="M667.9,322L668.5,322.1L671.2,320.8L675.1,322.1L675.3,323.8L676.4,326.4L675.5,325.9L676.2,328L677.7,328.7L679.4,327L680.6,325.6L683.7,323.8L687.6,325.4L690.4,326.4L691.1,326.7L694.5,328.3L699.1,330L702,332.6L701.9,333.6L704.6,335.5L706.5,336.5L706.4,337.5L704.4,337.6L704.7,339.4L706.9,341.2L709.2,343.7L710.7,345.4L712.6,346.9L712,347.8L710.4,347.9L708,346.9L705.7,346.3L704.1,344.8L702,341.1L699.1,340L696.7,340.9L695.6,342.5L694.6,343.8L693.6,344.4L689.9,343.8L687.6,341.2L685.2,341.9L682.4,342L684.8,339.1L685.1,337.5L684.6,334.9L683.5,334.1L679.2,331.8L676.9,331.4L673.2,330.4L671.8,330.7L670.8,327.5L673.1,326.4L674.6,325.6L670.4,325.4L668.5,323.8L667.7,323.5Z" fill="none" stroke="#62564c" stroke-width="0.45" stroke-linejoin="round"/>
<g clip-path="url(#c10)">
<rect x="-100" y="0" width="1000" height="600" fill="#d7301f"/>
<path d="M652.9,342.3L660,340.9L659.6,344.9L652.9,344.8L652.7,343.8Z" fill="#fdd49e" stroke="#62564c" stroke-width="0.45" stroke-linejoin="round"/>
</g>
<path d="M649,347.1L650.1,344.9L651.5,344.1L652.8,343.3L654.3,342.4L656.4,342L658.3,342L657.3,342.9L655.1,343.8L652.9,344.8L651.1,346.6Z" fill="none" stroke="#62564c" stroke-width="0.45" stroke-linejoin="round"/>
<path d="M350.9,188.4L353.3,186.5L354,185.5L356.4,185.4L357,184.5L354.6,184.6L352.2,184.2L351.8,183.7L354.2,182.7L354.3,181.2L353,181.5L353.3,179.9L356.5,179.9L356.5,178.4L355.4,177.2L356.4,176.1L352.9,176.8L352.5,175.9L353.3,174.7L352.9,173.6L351.2,175.2L351.6,172.7L350.5,171.7L351.3,170.3L352.4,168L353,167.1L356,166.9L356.7,166.9L354.8,168.8L354.6,169.6L358.6,169.3L359,169.8L358.5,170.6L357.2,172.3L357.4,172.7L356.2,173.5L358.5,174.1L359.7,175.9L362.2,178.2L362.2,179.4L363,181.1L365,181.2L365.9,182.2L365.6,183.5L364.4,184L363.8,184.7L365.2,185.1L365.1,185.8L364.3,186.3L362.9,186.6L360.8,186.6L359.8,186.5L357.5,187.1L355.3,186.9L355,188L354,187.7L351.9,188.7Z" fill="#fdbb84" stroke="#62564c" stroke-width="0.45" stroke-linejoin="round"/>
<path d="M319.5,150.2L325.5,148.3L336,148L338.2,151L336,153.2L328.5,155.2L322.5,154L321.8,152.2Z" fill="#fee8c8" stroke="#62564c" stroke-width="0.45" stroke-linejoin="round"/>
<path d="M377.8,120.6L386.9,119.6L401.8,119.6L401.3,121L392.6,121.6L389.1,125.5L386.9,126.2L382,124.1Z" fill="#fee8c8" stroke="#62564c" stroke-width="0.45" stroke-linejoin="round"/>
<path d="M393.3,123.4L398.9,123.4L398.2,124.5L394.7,124.4Z" fill="#fee8c8" stroke="#62564c" stroke-width="0.45" stroke-linejoin="round"/>
<path d="M426.5,118.8L435.6,118.5L435.2,119.6L430.7,120.2Z" fill="#fdd49e" stroke="#62564c" stroke-width="0.45" stroke-linejoin="round"/>
<path d="M446.9,136.1L449.8,129.8L456.1,127.6L467.4,126L467.8,127.2L460.4,129.1L454.7,131.2L452.6,134.7L457.5,138.2L457.2,139.4L450.5,138Z" fill="#fdd49e" stroke="#62564c" stroke-width="0.45" stroke-linejoin="round"/>
<path d="M494.2,119.1L499.4,117.8L509.8,120.4L508,122.2L500.7,121.6Z" fill="#fdd49e" stroke="#62564c" stroke-width="0.45" stroke-linejoin="round"/>
<path d="M511.6,121.6L518.8,122.4L518.3,123.7L512.3,123.5Z" fill="#fdd49e" stroke="#62564c" stroke-width="0.45" stroke-linejoin="round"/>
<path d="M575.2,128.1L580.9,127.1L588.7,128.6L587.4,130.7L579.6,130.2Z" fill="#fdd49e" stroke="#62564c" stroke-width="0.45" stroke-linejoin="round"/>
<path d="M590.8,128.6L598.5,129.4L597.7,130.7L591.3,130.2Z" fill="#fdd49e" stroke="#62564c" stroke-width="0.45" stroke-linejoin="round"/>
<path d="M586.6,132.8L592.6,133.8L590,135.4Z" fill="#fdd49e" stroke="#62564c" stroke-width="0.45" stroke-linejoin="round"/>
<path d="M657.8,137.2L661.2,138L660.4,139L658,138.5Z" fill="#fdd49e" stroke="#62564c" stroke-width="0.45" stroke-linejoin="round"/>
<path d="M64.1,138.2L69.4,137L69.2,137.9L65.3,138.9Z" fill="#fdd49e" stroke="#62564c" stroke-width="0.45" stroke-linejoin="round"/>
<path d="M640.5,177.7L641.6,177.4L645.1,180.2L648.2,183.5L652.4,187.8L657.5,191.4L653.6,190.6L656.5,195L659.7,198L657.6,197L657.8,199.1L654.4,195L653,192.4L649.6,188.5L645.7,184.2L642.4,180.2Z" fill="#fdd49e" stroke="#62564c" stroke-width="0.45" stroke-linejoin="round"/>
<path d="M658.2,200.1L662.6,202.7L666.1,204.1L667.4,203.2L670.1,205.7L667.8,206.7L667.1,209.2L662.7,207.6L661.7,208.4L660.1,207.9L662.9,209.7L661.2,210.7L659.4,208.7L658.8,206.1L660.2,206.1L660.3,204.1L658.2,200.9Z" fill="#fdbb84" stroke="#62564c" stroke-width="0.45" stroke-linejoin="round"/>
<path d="M662.8,210.5L664.2,210.8L665.7,213.1L668.3,215.5L669,218.9L668.4,220L669.9,222.6L671.1,225.6L670.7,227.3L670,227.8L668.9,226L668.2,227.3L668.1,228.6L666.7,228.6L664.1,228.6L664.3,229.6L662.8,231.7L660.2,229.4L660.3,228.5L657.5,228.6L655.6,229.4L654.2,229.3L651.4,230.3L652,229.2L653.4,226.5L654.8,226.1L657,226.1L659,225.7L660.5,225.6L660.5,222.6L661,221L661.2,222.7L661.8,223L664,221.3L664.2,219.8L664.5,217.3L662.8,214.7L662.4,212.9L662.1,211.2L663.7,211.8Z" fill="#fdbb84" stroke="#62564c" stroke-width="0.45" stroke-linejoin="round"/>
<path d="M655.2,231.1L654.5,231.9L656.7,233.5L657.4,233.6L657.7,231.5L659.5,232.2L660,230.6L659.4,230.1L657.9,229.3L655.9,230.1Z" fill="#fdbb84" stroke="#62564c" stroke-width="0.45" stroke-linejoin="round"/>
<path d="M651.4,230.5L653.6,231.3L654.9,233.4L654.8,235.8L654.6,237.3L653.9,238.1L652.7,237.5L651.8,235.2L650.3,233.9L649.4,232.1L650.4,231.3Z" fill="#fdbb84" stroke="#62564c" stroke-width="0.45" stroke-linejoin="round"/>
<path d="M638,253.2L639,253.9L638.9,256.6L638.9,259L638.3,262.1L636.5,260.3L636,259L636.5,255.8L637,253.9Z" fill="url(#hatch)" stroke="#cfcfcf" stroke-width="0.45" stroke-linejoin="round"/>
<path d="M615.9,266.9L616.8,268.2L616,270.3L614.2,271.9L612,271.1L611.6,269L612.8,267.4L614.3,266.9Z" fill="#fc8d59" stroke="#62564c" stroke-width="0.45" stroke-linejoin="round"/>
<path d="M547.8,294L548.6,294L551.1,297.4L552.8,300.3L552.5,302.7L550,304.2L549.1,304L548.2,301.7L547.8,298.2L548,296.1Z" fill="#fdd49e" stroke="#62564c" stroke-width="0.45" stroke-linejoin="round"/>
<path d="M639.3,271.1L643,271.1L644.1,274.5L642.8,277.9L643.6,282.2L645.9,282.2L648.9,283.5L649.8,286.8L647.8,285.6L645.9,284L643.8,283.2L642,283.7L641,281.9L641.8,281.5L639.7,280.8L638.5,276.7L639.6,276.1L639.3,273.7Z" fill="#ef6548" stroke="#62564c" stroke-width="0.45" stroke-linejoin="round"/>
<path d="M640.7,284.4L642.8,284.5L643.7,286.6L643.1,287.7L642.1,286.4Z" fill="#ef6548" stroke="#62564c" stroke-width="0.45" stroke-linejoin="round"/>
<path d="M650.2,286.8L652.6,286.9L654,290.6L653.2,292.7L652.6,293.5L651.6,291.1L650.5,289.5Z" fill="#ef6548" stroke="#62564c" stroke-width="0.45" stroke-linejoin="round"/>
<path d="M645.1,288.5L647.7,289.4L646.9,292.3L645.4,292.3Z" fill="#ef6548" stroke="#62564c" stroke-width="0.45" stroke-linejoin="round"/>
<path d="M647.7,291L649,292.2L648.8,295.3L647.1,295.1L646.5,293.5L647.3,291.1Z" fill="#ef6548" stroke="#62564c" stroke-width="0.45" stroke-linejoin="round"/>
<path d="M648.8,293L649.9,290.3L650.1,291.4L649.3,293.8Z" fill="#ef6548" stroke="#62564c" stroke-width="0.45" stroke-linejoin="round"/>
<path d="M649.8,293.8L651.4,293.2L651.5,294.3L650.1,294.5Z" fill="#ef6548" stroke="#62564c" stroke-width="0.45" stroke-linejoin="round"/>
<path d="M639.3,289.9L639.2,292.2L638.1,294.1L636.1,296.5L634.8,297.8L634.9,296.4L636.4,294.5L638.2,291.6Z" fill="#ef6548" stroke="#62564c" stroke-width="0.45" stroke-linejoin="round"/>
<path d="M653.7,294L655.9,296.9L656.9,300.6L656.1,303.4L654.7,301.3L654.3,305.1L652.4,303.8L650.9,301.7L651.3,300.9L649.4,300.3L646.3,301.7L646.5,299L648,297.4L649,297.2L650.2,298.5L651.1,298.2L652.4,296.4L654,296.1Z" fill="#ef6548" stroke="#62564c" stroke-width="0.45" stroke-linejoin="round"/>
<path d="M584.3,305.2L589.4,306L591.4,308.3L592.4,310L595.2,312.2L596.5,313.8L598.6,314.4L600.7,316.2L602.6,318L604.5,319.9L603.7,322.5L605.8,322.7L606.9,325.9L609.5,326.7L609.6,327.8L609.1,330.4L608.8,335.3L605.8,334.6L602.3,332L600.6,329.9L597.8,325.9L596.4,322.4L593.7,319.1L592.8,315.4L590.1,313.5L588.9,311.4L586.3,308.8L584.3,306.1Z" fill="#d7301f" stroke="#62564c" stroke-width="0.45" stroke-linejoin="round"/>
<path d="M607.2,337.8L609.1,335.4L611,335.9L614.4,336.5L615.1,337.6L619.2,338.2L620.5,336.7L624.4,338L624.7,338.8L628.5,340.4L628.2,342.8L625.1,341.7L620.4,341.6L615.8,340.3L612.8,340.1L609.9,339.4L609.9,338.3Z" fill="#d7301f" stroke="#62564c" stroke-width="0.45" stroke-linejoin="round"/>
<path d="M628.4,341.3L630.2,341.1L631.3,342L630.1,343L628.8,342Z" fill="#d7301f" stroke="#62564c" stroke-width="0.45" stroke-linejoin="round"/>
<path d="M631.8,342L633,341.5L633.6,342.4L633.1,343.3L631.7,342.9Z" fill="#d7301f" stroke="#62564c" stroke-width="0.45" stroke-linejoin="round"/>
<path d="M633.9,342L636.5,341.2L639,341.7L639.4,342.5L637.5,343.2L634.2,343.6L633.7,343Z" fill="#d7301f" stroke="#62564c" stroke-width="0.45" stroke-linejoin="round"/>
<path d="M641.1,342L643.6,341.9L647.9,341.2L648.3,341.7L647.8,342.5L644.5,343.3L641.2,343Z" fill="#d7301f" stroke="#62564c" stroke-width="0.45" stroke-linejoin="round"/>
<path d="M638.8,344.6L641.1,344.4L642.9,346.2L641.3,347L638.7,345.6Z" fill="#d7301f" stroke="#62564c" stroke-width="0.45" stroke-linejoin="round"/>
<path d="M644.1,316.4L645.7,317.1L649.2,317.3L652.7,316.7L654.3,315.5L652.3,318.8L649.2,318.5L645.7,318.5L642.9,318.5L642.5,319.9L642.2,321.2L643.6,322.5L644,323.5L646,322.2L647.4,322.4L650.2,321.8L649.9,322.5L647.8,323.9L645.9,324.9L645.4,325.1L647.4,328.3L647.9,329.1L648.5,330.7L649.1,331.7L647.8,334.1L646.5,332.6L645.4,332L644.3,329.3L644.2,326.8L642.8,327.8L642.9,330.4L642.8,334.6L640.6,334.5L640.4,333.6L640.8,330.4L639.5,329.1L639.3,327.2L640.5,324.9L640.6,323.3L641.9,321.7L641.8,319.3L642.7,317.7Z" fill="#d7301f" stroke="#62564c" stroke-width="0.45" stroke-linejoin="round"/>
<path d="M659.9,314.1L660.8,315.4L662.5,315.9L662.5,317L660.6,317.7L663,319.1L661.6,320.4L660.7,319.6L661.3,322.1L660.2,320.6L659.7,318L659.5,316.7Z" fill="#d7301f" stroke="#62564c" stroke-width="0.45" stroke-linejoin="round"/>
<path d="M661,327.4L664.2,327.2L667.2,328.5L667.3,330L664.2,328.9L661.1,329.1L660.5,328.3Z" fill="#d7301f" stroke="#62564c" stroke-width="0.45" stroke-linejoin="round"/>
<path d="M656.3,328L658.4,328.2L658.8,329.3L657.4,330L656,329.1Z" fill="#d7301f" stroke="#62564c" stroke-width="0.45" stroke-linejoin="round"/>
<path d="M674.6,334.3L676,334.6L675.8,337.2L674.6,337.8L674.8,335.7Z" fill="#d7301f" stroke="#62564c" stroke-width="0.45" stroke-linejoin="round"/>
<path d="M389.4,220.2L391.3,219.2L396.3,219L395.2,221L395.4,223.2L393.6,222.4L390.7,221.3Z" fill="#fdbb84" stroke="#62564c" stroke-width="0.45" stroke-linejoin="round"/>
<path d="M379.9,211.8L382,211.2L383.3,213.1L383.1,216.5L381.8,217.1L380.6,217.3L380.5,214.4L379.9,212.9Z" fill="#fdbb84" stroke="#62564c" stroke-width="0.45" stroke-linejoin="round"/>
<path d="M382.3,206.6L382.7,208.7L382.1,210.8L380.7,209.5L380.6,207.9L381.9,207.3Z" fill="#fdbb84" stroke="#62564c" stroke-width="0.45" stroke-linejoin="round"/>
<path d="M413.9,226.1L415.5,226L417.9,226.7L420.1,226.8L420.1,227.4L416.7,227.7L414.1,226.9Z" fill="#fee8c8" stroke="#62564c" stroke-width="0.45" stroke-linejoin="round"/>
<path d="M433.4,227.4L434.7,226.5L438.2,225.7L436.9,227.4L435.1,228.6L433.7,228.2Z" fill="#fee8c8" stroke="#62564c" stroke-width="0.45" stroke-linejoin="round"/>
<path d="M367.5,215.5L369.1,214.6L369.8,215.2L369,216.3L367.8,215.9Z" fill="#fdd49e" stroke="#62564c" stroke-width="0.45" stroke-linejoin="round"/>
<path d="M383.7,174.2L385,173.6L386.7,173.3L386.8,174.7L386.2,175.9L384.2,175.4Z" fill="#fee8c8" stroke="#62564c" stroke-width="0.45" stroke-linejoin="round"/>
<path d="M381.4,174.7L383.1,174.6L383.4,175.7L382.1,175.8Z" fill="#fee8c8" stroke="#62564c" stroke-width="0.45" stroke-linejoin="round"/>
<path d="M413,217.3L414.8,218L415.7,219.7L414.9,219.7L413.5,218.1Z" fill="#fee8c8" stroke="#62564c" stroke-width="0.45" stroke-linejoin="round"/>
<path d="M693,348.1L694.6,353.6L694.7,357.5L696.3,357.3L697.6,360.6L698.1,364.4L698.2,369.4L700.6,371L703,373.4L703.5,375.6L705.8,381.8L707.6,384.7L709.1,388.1L707.9,392.1L707.7,395.4L703.9,401.3L701,405.3L696.5,409.1L691.6,414L688.5,418.7L683.7,419.7L678.4,422.9L676.5,421.1L676.8,420L672.6,422.2L669.1,421.1L667.3,420L666.8,417.1L667.1,414L665.2,413.8L667,411.9L667.9,407.4L668.2,405.5L666.4,408.4L661.3,411.9L660.6,409L660,406.3L659.4,404.6L654.6,402.9L649.6,403.4L642.3,405L637.1,406.8L635.1,409.2L631.6,409.2L627.3,409.4L621.5,412.3L617.5,411.9L616.1,410.4L616.6,408.4L618.5,407.6L619.8,404.2L619.4,400.3L619.9,395.8L619.6,391.8L618.6,388.7L620.9,383.1L620.8,380.5L621.9,379.2L623,377.3L624.1,377.5L626.4,376L629.7,374L633.9,373.4L637.3,372.3L641.2,369.7L643.2,367.3L643.7,364.7L645.6,363.1L646.9,365.5L649.1,362.8L650.8,360.4L653.6,357.3L656,356.1L658.4,359.1L661.4,359.1L662.3,356.2L664,354.1L665.4,352.7L668.2,351.9L669.8,349.6L671.8,351L675.6,351.7L679.5,352L678.5,354.6L676.7,356L675.3,359.1L677.6,361.8L680.1,363.3L682.4,364.7L683.5,366L686.4,365.9L688.7,361.8L689.7,356.8L690.8,353.1L692,348.8Z" fill="#fdd49e" stroke="#62564c" stroke-width="0.45" stroke-linejoin="round"/>
<path d="M672.3,427.1L675.5,428.1L679.7,427.5L677.8,430.5L675,433.4L671.8,434.7L670.4,434.1L670.7,431.5L671.5,428.4Z" fill="#fdd49e" stroke="#62564c" stroke-width="0.45" stroke-linejoin="round"/>
<path d="M743,410.5L743.8,412.1L745.1,412.9L744.6,415.5L743.7,417L745.6,416.1L745.3,418.2L746.6,419.5L749.5,418.8L750.4,419.2L747.4,421.8L746.3,423.2L743.5,423.9L742.8,425.3L739.3,427.9L736,429.4L735.2,428.8L737.6,426.8L738.6,425.1L737.6,424.1L737.1,423.4L739.9,422.1L741.5,420L743,417.4L743.1,415.8L742.6,412.6Z" fill="#fee8c8" stroke="#62564c" stroke-width="0.45" stroke-linejoin="round"/>
<path d="M732.6,426.6L732.4,428.5L734.4,427.9L733.4,429.8L731,431.5L727.2,433.9L726.7,435.2L724.9,435.4L721.7,436.7L718.5,439.6L717.2,440.6L714.1,442.2L710.9,442.4L709.9,441.4L708.4,440.6L711.6,438L716.5,435.6L721.7,433.4L725.7,431.5L727.6,429.8L730.6,427.6Z" fill="#fee8c8" stroke="#62564c" stroke-width="0.45" stroke-linejoin="round"/>
<path d="M707.8,334.9L711.2,334.3L713.5,334.3L715.5,332.8L717,330.9L717.3,332.5L715.1,334.6L712.6,336.5L710.3,336.5L707.8,335.4Z" fill="#fdbb84" stroke="#62564c" stroke-width="0.45" stroke-linejoin="round"/>
<path d="M713.9,326.6L716.6,329.1L718.8,331.7L718.5,332.5L717.9,330.9L715.5,328.3Z" fill="#fdbb84" stroke="#62564c" stroke-width="0.45" stroke-linejoin="round"/>
<path d="M722.3,334.2L724.3,335.9L725.2,337.8L723.7,337.5L722.5,335.4Z" fill="#fdbb84" stroke="#62564c" stroke-width="0.45" stroke-linejoin="round"/>
<path d="M726.5,337.4L728.7,338.8L728.5,339.4L726.5,338Z" fill="#fdd49e" stroke="#62564c" stroke-width="0.45" stroke-linejoin="round"/>
<path d="M730.3,339.6L733.8,341.7L733.5,342.4L730.5,340.4Z" fill="#fdd49e" stroke="#62564c" stroke-width="0.45" stroke-linejoin="round"/>
<path d="M733.1,344.4L735.8,345.4L735.4,346.1L733.2,345.4Z" fill="#fdd49e" stroke="#62564c" stroke-width="0.45" stroke-linejoin="round"/>
<path d="M735.7,342L737.2,344.6L736.7,345.2L735.6,343Z" fill="#fdd49e" stroke="#62564c" stroke-width="0.45" stroke-linejoin="round"/>
<path d="M736.7,347L738.9,348.1L738.4,348.5L736.7,347.5Z" fill="#fdd49e" stroke="#62564c" stroke-width="0.45" stroke-linejoin="round"/>
<path d="M747.1,359.1L748.4,359.7L748.1,361L747,360.7Z" fill="#fee8c8" stroke="#62564c" stroke-width="0.45" stroke-linejoin="round"/>
<path d="M747.9,362L749,363.1L748.4,363.6L747.7,362.8Z" fill="#fee8c8" stroke="#62564c" stroke-width="0.45" stroke-linejoin="round"/>
<path d="M749.3,366.1L749.8,366.5L749.3,366.9Z" fill="#fee8c8" stroke="#62564c" stroke-width="0.45" stroke-linejoin="round"/>
<path d="M738,372.8L740.8,375.2L743.2,378.4L742.4,378.9L739.4,376.5L737.7,373.9Z" fill="url(#hatch)" stroke="#cfcfcf" stroke-width="0.45" stroke-linejoin="round"/>
<path d="M770.2,366L772.6,365.7L773,367.3L771.1,368L769.9,367.3Z" fill="#fdd49e" stroke="#62564c" stroke-width="0.45" stroke-linejoin="round"/>
<path d="M773.7,364.1L777,362.6L777,363.3L774.5,364.7Z" fill="#fdd49e" stroke="#62564c" stroke-width="0.45" stroke-linejoin="round"/>
<path d="M305.9,276.1L306.4,275.6L307,276.1L306.4,276.6Z" fill="#fdd49e" stroke="#62564c" stroke-width="0.45" stroke-linejoin="round"/>
<path d="M307.3,280L307.9,279.5L308.6,280L307.9,280.6Z" fill="#fdd49e" stroke="#62564c" stroke-width="0.45" stroke-linejoin="round"/>
<path d="M304.1,274.9L304.6,274.4L305.2,274.9L304.6,275.4Z" fill="#fdd49e" stroke="#62564c" stroke-width="0.45" stroke-linejoin="round"/>
<path d="M309.3,277.4L309.9,276.9L310.4,277.4L309.8,277.9Z" fill="#fdd49e" stroke="#62564c" stroke-width="0.45" stroke-linejoin="round"/>
<path d="M377.1,319.2L377.8,318.6L378.5,319.2L377.8,319.8Z" fill="#fdd49e" stroke="#62564c" stroke-width="0.45" stroke-linejoin="round"/>
<path d="M462.1,350.7L462.9,350L463.6,350.7L462.8,351.4Z" fill="#fdd49e" stroke="#62564c" stroke-width="0.45" stroke-linejoin="round"/>
<path d="M464.6,352L465.3,351.5L465.8,352L465.2,352.5Z" fill="#fdd49e" stroke="#62564c" stroke-width="0.45" stroke-linejoin="round"/>
<path d="M466.3,353.6L466.9,353.1L467.5,353.6L466.9,354.1Z" fill="#fdd49e" stroke="#62564c" stroke-width="0.45" stroke-linejoin="round"/>
<path d="M491.1,332.1L491.7,331.6L492.3,332.1L491.7,332.6Z" fill="#fee8c8" stroke="#62564c" stroke-width="0.45" stroke-linejoin="round"/>
<path d="M493.3,373.2L494.2,372.4L495.1,373.2L494.1,374Z" fill="#fee8c8" stroke="#62564c" stroke-width="0.45" stroke-linejoin="round"/>
<path d="M533.2,308.8L533.6,308.4L534.1,308.8L533.6,309.2Z" fill="#fee8c8" stroke="#62564c" stroke-width="0.45" stroke-linejoin="round"/>
<path d="M532.8,305.6L533.3,305.2L533.8,305.6L533.3,306Z" fill="#fee8c8" stroke="#62564c" stroke-width="0.45" stroke-linejoin="round"/>
<path d="M219.8,277L220.6,276.4L221.3,277L220.5,277.7Z" fill="#fee8c8" stroke="#62564c" stroke-width="0.45" stroke-linejoin="round"/>
<path d="M220.2,279.3L220.9,278.7L221.4,279.3L220.8,279.8Z" fill="#fee8c8" stroke="#62564c" stroke-width="0.45" stroke-linejoin="round"/>
<path d="M220.8,281.2L221.6,280.6L222.3,281.2L221.5,281.9Z" fill="#fee8c8" stroke="#62564c" stroke-width="0.45" stroke-linejoin="round"/>
<path d="M220.8,283.2L221.4,282.7L222,283.2L221.3,283.7Z" fill="#fee8c8" stroke="#62564c" stroke-width="0.45" stroke-linejoin="round"/>
<path d="M220.3,284.9L220.8,284.4L221.3,284.9L220.8,285.4Z" fill="#fee8c8" stroke="#62564c" stroke-width="0.45" stroke-linejoin="round"/>
<path d="M224,285.2L224.6,284.7L225.2,285.2L224.6,285.7Z" fill="#fee8c8" stroke="#62564c" stroke-width="0.45" stroke-linejoin="round"/>
<path d="M218.9,288L219.5,287.5L220,288L219.4,288.4Z" fill="#fee8c8" stroke="#62564c" stroke-width="0.45" stroke-linejoin="round"/>
<path d="M219.6,274.8L220.2,274.3L220.7,274.8L220.1,275.2Z" fill="#fee8c8" stroke="#62564c" stroke-width="0.45" stroke-linejoin="round"/>
<path d="M217.5,274.2L218.1,273.8L218.6,274.2L218,274.7Z" fill="#fee8c8" stroke="#62564c" stroke-width="0.45" stroke-linejoin="round"/>
<path d="M730,301.7L730.4,301.3L730.9,301.7L730.5,302.1Z" fill="#fee8c8" stroke="#62564c" stroke-width="0.45" stroke-linejoin="round"/>
<path d="M715,300.3L715.4,299.9L715.9,300.3L715.5,300.7Z" fill="#fee8c8" stroke="#62564c" stroke-width="0.45" stroke-linejoin="round"/>
<path d="M674.7,300.1L675.2,299.7L675.6,300.1L675.2,300.5Z" fill="#fee8c8" stroke="#62564c" stroke-width="0.45" stroke-linejoin="round"/>
<path d="M760.2,301.1L760.6,300.7L761.1,301.1L760.7,301.5Z" fill="#fee8c8" stroke="#62564c" stroke-width="0.45" stroke-linejoin="round"/>
<path d="M765.3,316.2L765.8,315.8L766.2,316.2L765.8,316.6Z" fill="#fee8c8" stroke="#62564c" stroke-width="0.45" stroke-linejoin="round"/>
<path d="M778.5,342.3L778.9,341.9L779.2,342.3L778.8,342.6Z" fill="#fee8c8" stroke="#62564c" stroke-width="0.45" stroke-linejoin="round"/>
<g id="legend">
<rect x="124.2" y="538.4" width="47.6" height="10.0" fill="url(#hatchS)" stroke="#c9c9c9" stroke-width="0.7"/>
<line x1="148" y1="535.3" x2="148" y2="538.4" stroke="#ccc" stroke-width="0.7"/>
<text class="lg" x="148" y="531" text-anchor="middle">No data</text>
<rect x="191.5" y="538.4" width="59.6" height="10.0" fill="#fff7ec"/>
<rect x="250.9" y="538.4" width="59.6" height="10.0" fill="#fee8c8"/>
<rect x="310.3" y="538.4" width="59.6" height="10.0" fill="#fdd49e"/>
<rect x="369.7" y="538.4" width="59.6" height="10.0" fill="#fdbb84"/>
<rect x="429.1" y="538.4" width="59.6" height="10.0" fill="#fc8d59"/>
<rect x="488.5" y="538.4" width="59.6" height="10.0" fill="#ef6548"/>
<rect x="547.9" y="538.4" width="59.6" height="10.0" fill="#d7301f"/>
<rect x="607.3" y="538.4" width="59.6" height="10.0" fill="#b30000"/>
<rect x="666.7" y="538.4" width="59.6" height="10.0" fill="#7f0000"/>
<rect x="191.5" y="538.4" width="534.6" height="10.0" fill="none" stroke="#a0a0a0" stroke-width="0.6"/>
<line x1="191.5" y1="535.3" x2="191.5" y2="538.4" stroke="#aaa" stroke-width="0.7"/>
<text class="lg" x="191.5" y="531" text-anchor="middle">0</text>
<line x1="250.9" y1="535.3" x2="250.9" y2="548.4" stroke="#777" stroke-width="0.7"/>
<text class="lg" x="250.9" y="531" text-anchor="middle">0</text>
<line x1="310.3" y1="535.3" x2="310.3" y2="548.4" stroke="#777" stroke-width="0.7"/>
<text class="lg" x="310.3" y="531" text-anchor="middle">300</text>
<line x1="369.7" y1="535.3" x2="369.7" y2="548.4" stroke="#777" stroke-width="0.7"/>
<text class="lg" x="369.7" y="531" text-anchor="middle">1,000</text>
<line x1="429.1" y1="535.3" x2="429.1" y2="548.4" stroke="#777" stroke-width="0.7"/>
<text class="lg" x="429.1" y="531" text-anchor="middle">3,000</text>
<line x1="488.5" y1="535.3" x2="488.5" y2="548.4" stroke="#777" stroke-width="0.7"/>
<text class="lg" x="488.5" y="531" text-anchor="middle">10,000</text>
<line x1="547.9" y1="535.3" x2="547.9" y2="548.4" stroke="#777" stroke-width="0.7"/>
<text class="lg" x="547.9" y="531" text-anchor="middle">30,000</text>
<line x1="607.3" y1="535.3" x2="607.3" y2="548.4" stroke="#777" stroke-width="0.7"/>
<text class="lg" x="607.3" y="531" text-anchor="middle">100,000</text>
<line x1="666.7" y1="535.3" x2="666.7" y2="548.4" stroke="#777" stroke-width="0.7"/>
<text class="lg" x="666.7" y="531" text-anchor="middle">300,000</text>
<text class="lg" x="726.1" y="531" text-anchor="middle">1 million</text>
</g>
</svg>
<div id="src"><b>Data source:</b> World Health Organization (2024)</div>
<div id="cc">diarrheal-diseases | CC BY</div>
</body></html>
